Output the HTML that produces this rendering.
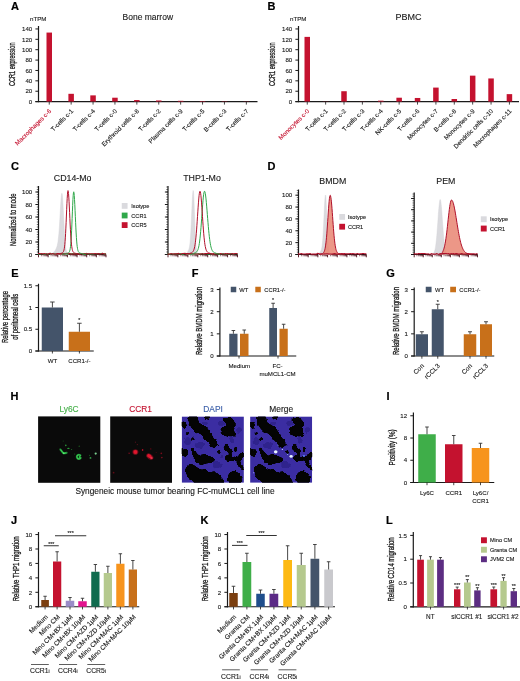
<!DOCTYPE html>
<html><head><meta charset="utf-8"><title>Figure</title>
<style>html,body{margin:0;padding:0;background:#fff}svg{display:block}text{font-family:"Liberation Sans", sans-serif}</style></head>
<body>
<svg width="520" height="681" viewBox="0 0 520 681">
<rect width="520" height="681" fill="#fff"/>
<text transform="translate(11.00,10.30)" font-size="11" text-anchor="start" fill="#000" font-weight="bold" stroke="#000" stroke-width="0.2" >A</text>
<text transform="translate(30.00,21.30)" font-size="6.2" text-anchor="start" fill="#1a1a1a" font-weight="normal" stroke="#1a1a1a" stroke-width="0.12" >nTPM</text>
<text transform="translate(147.80,20.40)" font-size="8.5" text-anchor="middle" fill="#1a1a1a" font-weight="normal" stroke="#1a1a1a" stroke-width="0.12" >Bone marrow</text>
<text transform="translate(15.30,86.00) rotate(-90)" font-size="8.3" textLength="43.5" lengthAdjust="spacingAndGlyphs" fill="#1a1a1a" stroke="#1a1a1a" stroke-width="0.3">CCR1 expression</text>
<line x1="38.50" y1="26.00" x2="38.50" y2="102.20" stroke="#1a1a1a" stroke-width="1.2" stroke-linecap="butt"/>
<line x1="35.40" y1="101.60" x2="38.50" y2="101.60" stroke="#1a1a1a" stroke-width="1.0" stroke-linecap="butt"/>
<text transform="translate(32.20,103.80)" font-size="6.1" text-anchor="end" fill="#1a1a1a" font-weight="normal" stroke="#1a1a1a" stroke-width="0.12" >0</text>
<line x1="35.40" y1="91.22" x2="38.50" y2="91.22" stroke="#1a1a1a" stroke-width="1.0" stroke-linecap="butt"/>
<text transform="translate(32.20,93.42)" font-size="6.1" text-anchor="end" fill="#1a1a1a" font-weight="normal" stroke="#1a1a1a" stroke-width="0.12" >20</text>
<line x1="35.40" y1="80.84" x2="38.50" y2="80.84" stroke="#1a1a1a" stroke-width="1.0" stroke-linecap="butt"/>
<text transform="translate(32.20,83.04)" font-size="6.1" text-anchor="end" fill="#1a1a1a" font-weight="normal" stroke="#1a1a1a" stroke-width="0.12" >40</text>
<line x1="35.40" y1="70.46" x2="38.50" y2="70.46" stroke="#1a1a1a" stroke-width="1.0" stroke-linecap="butt"/>
<text transform="translate(32.20,72.66)" font-size="6.1" text-anchor="end" fill="#1a1a1a" font-weight="normal" stroke="#1a1a1a" stroke-width="0.12" >60</text>
<line x1="35.40" y1="60.08" x2="38.50" y2="60.08" stroke="#1a1a1a" stroke-width="1.0" stroke-linecap="butt"/>
<text transform="translate(32.20,62.28)" font-size="6.1" text-anchor="end" fill="#1a1a1a" font-weight="normal" stroke="#1a1a1a" stroke-width="0.12" >80</text>
<line x1="35.40" y1="49.70" x2="38.50" y2="49.70" stroke="#1a1a1a" stroke-width="1.0" stroke-linecap="butt"/>
<text transform="translate(32.20,51.90)" font-size="6.1" text-anchor="end" fill="#1a1a1a" font-weight="normal" stroke="#1a1a1a" stroke-width="0.12" >100</text>
<line x1="35.40" y1="39.32" x2="38.50" y2="39.32" stroke="#1a1a1a" stroke-width="1.0" stroke-linecap="butt"/>
<text transform="translate(32.20,41.52)" font-size="6.1" text-anchor="end" fill="#1a1a1a" font-weight="normal" stroke="#1a1a1a" stroke-width="0.12" >120</text>
<line x1="35.40" y1="28.94" x2="38.50" y2="28.94" stroke="#1a1a1a" stroke-width="1.0" stroke-linecap="butt"/>
<text transform="translate(32.20,31.14)" font-size="6.1" text-anchor="end" fill="#1a1a1a" font-weight="normal" stroke="#1a1a1a" stroke-width="0.12" >140</text>
<line x1="35.40" y1="101.60" x2="257.50" y2="101.60" stroke="#1a1a1a" stroke-width="1.2" stroke-linecap="butt"/>
<rect x="46.50" y="32.57" width="5.50" height="69.03" fill="#c4122f"/>
<line x1="49.25" y1="101.60" x2="49.25" y2="104.60" stroke="#1a1a1a" stroke-width="0.8" stroke-linecap="butt"/>
<text transform="translate(51.75,111.60) rotate(-45)" font-size="6.25" text-anchor="end" fill="#c4122f" font-weight="normal" stroke="#c4122f" stroke-width="0.12" >Macrophages c-6</text>
<rect x="68.40" y="93.81" width="5.50" height="7.79" fill="#c4122f"/>
<line x1="71.15" y1="101.60" x2="71.15" y2="104.60" stroke="#1a1a1a" stroke-width="0.8" stroke-linecap="butt"/>
<text transform="translate(73.65,111.60) rotate(-45)" font-size="6.25" text-anchor="end" fill="#1a1a1a" font-weight="normal" stroke="#1a1a1a" stroke-width="0.12" >T-cells c-1</text>
<rect x="90.30" y="95.37" width="5.50" height="6.23" fill="#c4122f"/>
<line x1="93.05" y1="101.60" x2="93.05" y2="104.60" stroke="#1a1a1a" stroke-width="0.8" stroke-linecap="butt"/>
<text transform="translate(95.55,111.60) rotate(-45)" font-size="6.25" text-anchor="end" fill="#1a1a1a" font-weight="normal" stroke="#1a1a1a" stroke-width="0.12" >T-cells c-4</text>
<rect x="112.20" y="97.71" width="5.50" height="3.89" fill="#c4122f"/>
<line x1="114.95" y1="101.60" x2="114.95" y2="104.60" stroke="#1a1a1a" stroke-width="0.8" stroke-linecap="butt"/>
<text transform="translate(117.45,111.60) rotate(-45)" font-size="6.25" text-anchor="end" fill="#1a1a1a" font-weight="normal" stroke="#1a1a1a" stroke-width="0.12" >T-cells c-0</text>
<rect x="134.10" y="100.04" width="5.50" height="1.56" fill="#c4122f"/>
<line x1="136.85" y1="101.60" x2="136.85" y2="104.60" stroke="#1a1a1a" stroke-width="0.8" stroke-linecap="butt"/>
<text transform="translate(139.35,111.60) rotate(-45)" font-size="6.25" text-anchor="end" fill="#1a1a1a" font-weight="normal" stroke="#1a1a1a" stroke-width="0.12" >Erythroid cells c-8</text>
<rect x="156.00" y="100.46" width="5.50" height="1.14" fill="#c4122f"/>
<line x1="158.75" y1="101.60" x2="158.75" y2="104.60" stroke="#1a1a1a" stroke-width="0.8" stroke-linecap="butt"/>
<text transform="translate(161.25,111.60) rotate(-45)" font-size="6.25" text-anchor="end" fill="#1a1a1a" font-weight="normal" stroke="#1a1a1a" stroke-width="0.12" >T-cells c-2</text>
<rect x="177.90" y="100.82" width="5.50" height="0.78" fill="#c4122f"/>
<line x1="180.65" y1="101.60" x2="180.65" y2="104.60" stroke="#1a1a1a" stroke-width="0.8" stroke-linecap="butt"/>
<text transform="translate(183.15,111.60) rotate(-45)" font-size="6.25" text-anchor="end" fill="#1a1a1a" font-weight="normal" stroke="#1a1a1a" stroke-width="0.12" >Plasma cells c-9</text>
<rect x="199.80" y="101.08" width="5.50" height="0.52" fill="#c4122f"/>
<line x1="202.55" y1="101.60" x2="202.55" y2="104.60" stroke="#1a1a1a" stroke-width="0.8" stroke-linecap="butt"/>
<text transform="translate(205.05,111.60) rotate(-45)" font-size="6.25" text-anchor="end" fill="#1a1a1a" font-weight="normal" stroke="#1a1a1a" stroke-width="0.12" >T-cells c-5</text>
<rect x="221.70" y="101.29" width="5.50" height="0.31" fill="#c4122f"/>
<line x1="224.45" y1="101.60" x2="224.45" y2="104.60" stroke="#1a1a1a" stroke-width="0.8" stroke-linecap="butt"/>
<text transform="translate(226.95,111.60) rotate(-45)" font-size="6.25" text-anchor="end" fill="#1a1a1a" font-weight="normal" stroke="#1a1a1a" stroke-width="0.12" >B-cells c-3</text>
<rect x="243.60" y="101.39" width="5.50" height="0.21" fill="#c4122f"/>
<line x1="246.35" y1="101.60" x2="246.35" y2="104.60" stroke="#1a1a1a" stroke-width="0.8" stroke-linecap="butt"/>
<text transform="translate(248.85,111.60) rotate(-45)" font-size="6.25" text-anchor="end" fill="#1a1a1a" font-weight="normal" stroke="#1a1a1a" stroke-width="0.12" >T-cells c-7</text>
<text transform="translate(267.50,10.30)" font-size="11" text-anchor="start" fill="#000" font-weight="bold" stroke="#000" stroke-width="0.2" >B</text>
<text transform="translate(290.00,21.30)" font-size="6.2" text-anchor="start" fill="#1a1a1a" font-weight="normal" stroke="#1a1a1a" stroke-width="0.12" >nTPM</text>
<text transform="translate(408.60,20.40)" font-size="9.0" text-anchor="middle" fill="#1a1a1a" font-weight="normal" stroke="#1a1a1a" stroke-width="0.12" >PBMC</text>
<text transform="translate(275.30,86.00) rotate(-90)" font-size="8.3" textLength="43.5" lengthAdjust="spacingAndGlyphs" fill="#1a1a1a" stroke="#1a1a1a" stroke-width="0.3">CCR1 expression</text>
<line x1="298.50" y1="26.00" x2="298.50" y2="102.20" stroke="#1a1a1a" stroke-width="1.2" stroke-linecap="butt"/>
<line x1="295.40" y1="101.60" x2="298.50" y2="101.60" stroke="#1a1a1a" stroke-width="1.0" stroke-linecap="butt"/>
<text transform="translate(292.20,103.80)" font-size="6.1" text-anchor="end" fill="#1a1a1a" font-weight="normal" stroke="#1a1a1a" stroke-width="0.12" >0</text>
<line x1="295.40" y1="91.22" x2="298.50" y2="91.22" stroke="#1a1a1a" stroke-width="1.0" stroke-linecap="butt"/>
<text transform="translate(292.20,93.42)" font-size="6.1" text-anchor="end" fill="#1a1a1a" font-weight="normal" stroke="#1a1a1a" stroke-width="0.12" >20</text>
<line x1="295.40" y1="80.84" x2="298.50" y2="80.84" stroke="#1a1a1a" stroke-width="1.0" stroke-linecap="butt"/>
<text transform="translate(292.20,83.04)" font-size="6.1" text-anchor="end" fill="#1a1a1a" font-weight="normal" stroke="#1a1a1a" stroke-width="0.12" >40</text>
<line x1="295.40" y1="70.46" x2="298.50" y2="70.46" stroke="#1a1a1a" stroke-width="1.0" stroke-linecap="butt"/>
<text transform="translate(292.20,72.66)" font-size="6.1" text-anchor="end" fill="#1a1a1a" font-weight="normal" stroke="#1a1a1a" stroke-width="0.12" >60</text>
<line x1="295.40" y1="60.08" x2="298.50" y2="60.08" stroke="#1a1a1a" stroke-width="1.0" stroke-linecap="butt"/>
<text transform="translate(292.20,62.28)" font-size="6.1" text-anchor="end" fill="#1a1a1a" font-weight="normal" stroke="#1a1a1a" stroke-width="0.12" >80</text>
<line x1="295.40" y1="49.70" x2="298.50" y2="49.70" stroke="#1a1a1a" stroke-width="1.0" stroke-linecap="butt"/>
<text transform="translate(292.20,51.90)" font-size="6.1" text-anchor="end" fill="#1a1a1a" font-weight="normal" stroke="#1a1a1a" stroke-width="0.12" >100</text>
<line x1="295.40" y1="39.32" x2="298.50" y2="39.32" stroke="#1a1a1a" stroke-width="1.0" stroke-linecap="butt"/>
<text transform="translate(292.20,41.52)" font-size="6.1" text-anchor="end" fill="#1a1a1a" font-weight="normal" stroke="#1a1a1a" stroke-width="0.12" >120</text>
<line x1="295.40" y1="28.94" x2="298.50" y2="28.94" stroke="#1a1a1a" stroke-width="1.0" stroke-linecap="butt"/>
<text transform="translate(292.20,31.14)" font-size="6.1" text-anchor="end" fill="#1a1a1a" font-weight="normal" stroke="#1a1a1a" stroke-width="0.12" >140</text>
<line x1="295.40" y1="101.60" x2="519.00" y2="101.60" stroke="#1a1a1a" stroke-width="1.2" stroke-linecap="butt"/>
<rect x="304.50" y="36.88" width="5.50" height="64.72" fill="#c4122f"/>
<line x1="307.25" y1="101.60" x2="307.25" y2="104.60" stroke="#1a1a1a" stroke-width="0.8" stroke-linecap="butt"/>
<text transform="translate(309.75,111.60) rotate(-45)" font-size="6.25" text-anchor="end" fill="#c4122f" font-weight="normal" stroke="#c4122f" stroke-width="0.12" >Monocytes c-0</text>
<rect x="322.88" y="101.44" width="5.50" height="0.16" fill="#c4122f"/>
<line x1="325.63" y1="101.60" x2="325.63" y2="104.60" stroke="#1a1a1a" stroke-width="0.8" stroke-linecap="butt"/>
<text transform="translate(328.13,111.60) rotate(-45)" font-size="6.25" text-anchor="end" fill="#1a1a1a" font-weight="normal" stroke="#1a1a1a" stroke-width="0.12" >T-cells c-1</text>
<rect x="341.26" y="91.22" width="5.50" height="10.38" fill="#c4122f"/>
<line x1="344.01" y1="101.60" x2="344.01" y2="104.60" stroke="#1a1a1a" stroke-width="0.8" stroke-linecap="butt"/>
<text transform="translate(346.51,111.60) rotate(-45)" font-size="6.25" text-anchor="end" fill="#1a1a1a" font-weight="normal" stroke="#1a1a1a" stroke-width="0.12" >T-cells c-2</text>
<rect x="359.64" y="101.44" width="5.50" height="0.16" fill="#c4122f"/>
<line x1="362.39" y1="101.60" x2="362.39" y2="104.60" stroke="#1a1a1a" stroke-width="0.8" stroke-linecap="butt"/>
<text transform="translate(364.89,111.60) rotate(-45)" font-size="6.25" text-anchor="end" fill="#1a1a1a" font-weight="normal" stroke="#1a1a1a" stroke-width="0.12" >T-cells c-3</text>
<rect x="378.02" y="100.67" width="5.50" height="0.93" fill="#c4122f"/>
<line x1="380.77" y1="101.60" x2="380.77" y2="104.60" stroke="#1a1a1a" stroke-width="0.8" stroke-linecap="butt"/>
<text transform="translate(383.27,111.60) rotate(-45)" font-size="6.25" text-anchor="end" fill="#1a1a1a" font-weight="normal" stroke="#1a1a1a" stroke-width="0.12" >T-cells c-4</text>
<rect x="396.40" y="97.71" width="5.50" height="3.89" fill="#c4122f"/>
<line x1="399.15" y1="101.60" x2="399.15" y2="104.60" stroke="#1a1a1a" stroke-width="0.8" stroke-linecap="butt"/>
<text transform="translate(401.65,111.60) rotate(-45)" font-size="6.25" text-anchor="end" fill="#1a1a1a" font-weight="normal" stroke="#1a1a1a" stroke-width="0.12" >NK-cells c-5</text>
<rect x="414.78" y="97.97" width="5.50" height="3.63" fill="#c4122f"/>
<line x1="417.53" y1="101.60" x2="417.53" y2="104.60" stroke="#1a1a1a" stroke-width="0.8" stroke-linecap="butt"/>
<text transform="translate(420.03,111.60) rotate(-45)" font-size="6.25" text-anchor="end" fill="#1a1a1a" font-weight="normal" stroke="#1a1a1a" stroke-width="0.12" >T-cells c-6</text>
<rect x="433.16" y="87.59" width="5.50" height="14.01" fill="#c4122f"/>
<line x1="435.91" y1="101.60" x2="435.91" y2="104.60" stroke="#1a1a1a" stroke-width="0.8" stroke-linecap="butt"/>
<text transform="translate(438.41,111.60) rotate(-45)" font-size="6.25" text-anchor="end" fill="#1a1a1a" font-weight="normal" stroke="#1a1a1a" stroke-width="0.12" >Monocytes c-7</text>
<rect x="451.54" y="99.00" width="5.50" height="2.60" fill="#c4122f"/>
<line x1="454.29" y1="101.60" x2="454.29" y2="104.60" stroke="#1a1a1a" stroke-width="0.8" stroke-linecap="butt"/>
<text transform="translate(456.79,111.60) rotate(-45)" font-size="6.25" text-anchor="end" fill="#1a1a1a" font-weight="normal" stroke="#1a1a1a" stroke-width="0.12" >B-cells c-8</text>
<rect x="469.92" y="75.65" width="5.50" height="25.95" fill="#c4122f"/>
<line x1="472.67" y1="101.60" x2="472.67" y2="104.60" stroke="#1a1a1a" stroke-width="0.8" stroke-linecap="butt"/>
<text transform="translate(475.17,111.60) rotate(-45)" font-size="6.25" text-anchor="end" fill="#1a1a1a" font-weight="normal" stroke="#1a1a1a" stroke-width="0.12" >Monocytes c-9</text>
<rect x="488.30" y="78.45" width="5.50" height="23.15" fill="#c4122f"/>
<line x1="491.05" y1="101.60" x2="491.05" y2="104.60" stroke="#1a1a1a" stroke-width="0.8" stroke-linecap="butt"/>
<text transform="translate(493.55,111.60) rotate(-45)" font-size="6.25" text-anchor="end" fill="#1a1a1a" font-weight="normal" stroke="#1a1a1a" stroke-width="0.12" >Dendritic cells c-10</text>
<rect x="506.68" y="94.13" width="5.50" height="7.47" fill="#c4122f"/>
<line x1="509.43" y1="101.60" x2="509.43" y2="104.60" stroke="#1a1a1a" stroke-width="0.8" stroke-linecap="butt"/>
<text transform="translate(511.93,111.60) rotate(-45)" font-size="6.25" text-anchor="end" fill="#1a1a1a" font-weight="normal" stroke="#1a1a1a" stroke-width="0.12" >Macrophages c-11</text>
<text transform="translate(11.00,170.30)" font-size="11" text-anchor="start" fill="#000" font-weight="bold" stroke="#000" stroke-width="0.2" >C</text>
<text transform="translate(15.60,246.05) rotate(-90)" font-size="8.3" textLength="52.5" lengthAdjust="spacingAndGlyphs" fill="#1a1a1a" stroke="#1a1a1a" stroke-width="0.3">Normalized to mode</text>
<text transform="translate(72.60,180.50)" font-size="8.8" text-anchor="middle" fill="#1a1a1a" font-weight="normal" stroke="#1a1a1a" stroke-width="0.12" >CD14-Mo</text>
<line x1="38.50" y1="186.00" x2="38.50" y2="255.10" stroke="#1a1a1a" stroke-width="1.2" stroke-linecap="butt"/>
<line x1="35.40" y1="254.50" x2="106.00" y2="254.50" stroke="#1a1a1a" stroke-width="1.2" stroke-linecap="butt"/>
<line x1="35.40" y1="254.50" x2="38.50" y2="254.50" stroke="#1a1a1a" stroke-width="1.0" stroke-linecap="butt"/>
<text transform="translate(32.20,256.70)" font-size="6.1" text-anchor="end" fill="#1a1a1a" font-weight="normal" stroke="#1a1a1a" stroke-width="0.12" >0</text>
<line x1="35.40" y1="242.00" x2="38.50" y2="242.00" stroke="#1a1a1a" stroke-width="1.0" stroke-linecap="butt"/>
<text transform="translate(32.20,244.20)" font-size="6.1" text-anchor="end" fill="#1a1a1a" font-weight="normal" stroke="#1a1a1a" stroke-width="0.12" >20</text>
<line x1="35.40" y1="229.50" x2="38.50" y2="229.50" stroke="#1a1a1a" stroke-width="1.0" stroke-linecap="butt"/>
<text transform="translate(32.20,231.70)" font-size="6.1" text-anchor="end" fill="#1a1a1a" font-weight="normal" stroke="#1a1a1a" stroke-width="0.12" >40</text>
<line x1="35.40" y1="217.00" x2="38.50" y2="217.00" stroke="#1a1a1a" stroke-width="1.0" stroke-linecap="butt"/>
<text transform="translate(32.20,219.20)" font-size="6.1" text-anchor="end" fill="#1a1a1a" font-weight="normal" stroke="#1a1a1a" stroke-width="0.12" >60</text>
<line x1="35.40" y1="204.50" x2="38.50" y2="204.50" stroke="#1a1a1a" stroke-width="1.0" stroke-linecap="butt"/>
<text transform="translate(32.20,206.70)" font-size="6.1" text-anchor="end" fill="#1a1a1a" font-weight="normal" stroke="#1a1a1a" stroke-width="0.12" >80</text>
<line x1="35.40" y1="192.00" x2="38.50" y2="192.00" stroke="#1a1a1a" stroke-width="1.0" stroke-linecap="butt"/>
<text transform="translate(32.20,194.20)" font-size="6.1" text-anchor="end" fill="#1a1a1a" font-weight="normal" stroke="#1a1a1a" stroke-width="0.12" >100</text>
<line x1="36.80" y1="254.50" x2="38.50" y2="254.50" stroke="#1a1a1a" stroke-width="0.6" stroke-linecap="butt"/>
<line x1="36.80" y1="252.00" x2="38.50" y2="252.00" stroke="#1a1a1a" stroke-width="0.6" stroke-linecap="butt"/>
<line x1="36.80" y1="249.50" x2="38.50" y2="249.50" stroke="#1a1a1a" stroke-width="0.6" stroke-linecap="butt"/>
<line x1="36.80" y1="247.00" x2="38.50" y2="247.00" stroke="#1a1a1a" stroke-width="0.6" stroke-linecap="butt"/>
<line x1="36.80" y1="244.50" x2="38.50" y2="244.50" stroke="#1a1a1a" stroke-width="0.6" stroke-linecap="butt"/>
<line x1="36.80" y1="242.00" x2="38.50" y2="242.00" stroke="#1a1a1a" stroke-width="0.6" stroke-linecap="butt"/>
<line x1="36.80" y1="239.50" x2="38.50" y2="239.50" stroke="#1a1a1a" stroke-width="0.6" stroke-linecap="butt"/>
<line x1="36.80" y1="237.00" x2="38.50" y2="237.00" stroke="#1a1a1a" stroke-width="0.6" stroke-linecap="butt"/>
<line x1="36.80" y1="234.50" x2="38.50" y2="234.50" stroke="#1a1a1a" stroke-width="0.6" stroke-linecap="butt"/>
<line x1="36.80" y1="232.00" x2="38.50" y2="232.00" stroke="#1a1a1a" stroke-width="0.6" stroke-linecap="butt"/>
<line x1="36.80" y1="229.50" x2="38.50" y2="229.50" stroke="#1a1a1a" stroke-width="0.6" stroke-linecap="butt"/>
<line x1="36.80" y1="227.00" x2="38.50" y2="227.00" stroke="#1a1a1a" stroke-width="0.6" stroke-linecap="butt"/>
<line x1="36.80" y1="224.50" x2="38.50" y2="224.50" stroke="#1a1a1a" stroke-width="0.6" stroke-linecap="butt"/>
<line x1="36.80" y1="222.00" x2="38.50" y2="222.00" stroke="#1a1a1a" stroke-width="0.6" stroke-linecap="butt"/>
<line x1="36.80" y1="219.50" x2="38.50" y2="219.50" stroke="#1a1a1a" stroke-width="0.6" stroke-linecap="butt"/>
<line x1="36.80" y1="217.00" x2="38.50" y2="217.00" stroke="#1a1a1a" stroke-width="0.6" stroke-linecap="butt"/>
<line x1="36.80" y1="214.50" x2="38.50" y2="214.50" stroke="#1a1a1a" stroke-width="0.6" stroke-linecap="butt"/>
<line x1="36.80" y1="212.00" x2="38.50" y2="212.00" stroke="#1a1a1a" stroke-width="0.6" stroke-linecap="butt"/>
<line x1="36.80" y1="209.50" x2="38.50" y2="209.50" stroke="#1a1a1a" stroke-width="0.6" stroke-linecap="butt"/>
<line x1="36.80" y1="207.00" x2="38.50" y2="207.00" stroke="#1a1a1a" stroke-width="0.6" stroke-linecap="butt"/>
<line x1="36.80" y1="204.50" x2="38.50" y2="204.50" stroke="#1a1a1a" stroke-width="0.6" stroke-linecap="butt"/>
<line x1="36.80" y1="202.00" x2="38.50" y2="202.00" stroke="#1a1a1a" stroke-width="0.6" stroke-linecap="butt"/>
<line x1="36.80" y1="199.50" x2="38.50" y2="199.50" stroke="#1a1a1a" stroke-width="0.6" stroke-linecap="butt"/>
<line x1="36.80" y1="197.00" x2="38.50" y2="197.00" stroke="#1a1a1a" stroke-width="0.6" stroke-linecap="butt"/>
<line x1="36.80" y1="194.50" x2="38.50" y2="194.50" stroke="#1a1a1a" stroke-width="0.6" stroke-linecap="butt"/>
<line x1="36.80" y1="192.00" x2="38.50" y2="192.00" stroke="#1a1a1a" stroke-width="0.6" stroke-linecap="butt"/>
<line x1="36.80" y1="189.50" x2="38.50" y2="189.50" stroke="#1a1a1a" stroke-width="0.6" stroke-linecap="butt"/>
<line x1="36.80" y1="187.00" x2="38.50" y2="187.00" stroke="#1a1a1a" stroke-width="0.6" stroke-linecap="butt"/>
<line x1="38.50" y1="254.50" x2="38.50" y2="257.30" stroke="#4a0c18" stroke-width="0.9" stroke-linecap="butt"/>
<line x1="41.40" y1="254.50" x2="41.40" y2="256.30" stroke="#4a0c18" stroke-width="0.55" stroke-linecap="butt"/>
<line x1="43.10" y1="254.50" x2="43.10" y2="256.30" stroke="#4a0c18" stroke-width="0.55" stroke-linecap="butt"/>
<line x1="44.31" y1="254.50" x2="44.31" y2="256.30" stroke="#4a0c18" stroke-width="0.55" stroke-linecap="butt"/>
<line x1="45.24" y1="254.50" x2="45.24" y2="256.30" stroke="#4a0c18" stroke-width="0.55" stroke-linecap="butt"/>
<line x1="46.00" y1="254.50" x2="46.00" y2="256.30" stroke="#4a0c18" stroke-width="0.55" stroke-linecap="butt"/>
<line x1="46.65" y1="254.50" x2="46.65" y2="256.30" stroke="#4a0c18" stroke-width="0.55" stroke-linecap="butt"/>
<line x1="47.21" y1="254.50" x2="47.21" y2="256.30" stroke="#4a0c18" stroke-width="0.55" stroke-linecap="butt"/>
<line x1="47.70" y1="254.50" x2="47.70" y2="256.30" stroke="#4a0c18" stroke-width="0.55" stroke-linecap="butt"/>
<line x1="48.14" y1="254.50" x2="48.14" y2="257.30" stroke="#4a0c18" stroke-width="0.9" stroke-linecap="butt"/>
<line x1="51.05" y1="254.50" x2="51.05" y2="256.30" stroke="#4a0c18" stroke-width="0.55" stroke-linecap="butt"/>
<line x1="52.74" y1="254.50" x2="52.74" y2="256.30" stroke="#4a0c18" stroke-width="0.55" stroke-linecap="butt"/>
<line x1="53.95" y1="254.50" x2="53.95" y2="256.30" stroke="#4a0c18" stroke-width="0.55" stroke-linecap="butt"/>
<line x1="54.88" y1="254.50" x2="54.88" y2="256.30" stroke="#4a0c18" stroke-width="0.55" stroke-linecap="butt"/>
<line x1="55.65" y1="254.50" x2="55.65" y2="256.30" stroke="#4a0c18" stroke-width="0.55" stroke-linecap="butt"/>
<line x1="56.29" y1="254.50" x2="56.29" y2="256.30" stroke="#4a0c18" stroke-width="0.55" stroke-linecap="butt"/>
<line x1="56.85" y1="254.50" x2="56.85" y2="256.30" stroke="#4a0c18" stroke-width="0.55" stroke-linecap="butt"/>
<line x1="57.34" y1="254.50" x2="57.34" y2="256.30" stroke="#4a0c18" stroke-width="0.55" stroke-linecap="butt"/>
<line x1="57.79" y1="254.50" x2="57.79" y2="257.30" stroke="#4a0c18" stroke-width="0.9" stroke-linecap="butt"/>
<line x1="60.69" y1="254.50" x2="60.69" y2="256.30" stroke="#4a0c18" stroke-width="0.55" stroke-linecap="butt"/>
<line x1="62.39" y1="254.50" x2="62.39" y2="256.30" stroke="#4a0c18" stroke-width="0.55" stroke-linecap="butt"/>
<line x1="63.59" y1="254.50" x2="63.59" y2="256.30" stroke="#4a0c18" stroke-width="0.55" stroke-linecap="butt"/>
<line x1="64.53" y1="254.50" x2="64.53" y2="256.30" stroke="#4a0c18" stroke-width="0.55" stroke-linecap="butt"/>
<line x1="65.29" y1="254.50" x2="65.29" y2="256.30" stroke="#4a0c18" stroke-width="0.55" stroke-linecap="butt"/>
<line x1="65.93" y1="254.50" x2="65.93" y2="256.30" stroke="#4a0c18" stroke-width="0.55" stroke-linecap="butt"/>
<line x1="66.49" y1="254.50" x2="66.49" y2="256.30" stroke="#4a0c18" stroke-width="0.55" stroke-linecap="butt"/>
<line x1="66.99" y1="254.50" x2="66.99" y2="256.30" stroke="#4a0c18" stroke-width="0.55" stroke-linecap="butt"/>
<line x1="67.43" y1="254.50" x2="67.43" y2="257.30" stroke="#4a0c18" stroke-width="0.9" stroke-linecap="butt"/>
<line x1="70.33" y1="254.50" x2="70.33" y2="256.30" stroke="#4a0c18" stroke-width="0.55" stroke-linecap="butt"/>
<line x1="72.03" y1="254.50" x2="72.03" y2="256.30" stroke="#4a0c18" stroke-width="0.55" stroke-linecap="butt"/>
<line x1="73.23" y1="254.50" x2="73.23" y2="256.30" stroke="#4a0c18" stroke-width="0.55" stroke-linecap="butt"/>
<line x1="74.17" y1="254.50" x2="74.17" y2="256.30" stroke="#4a0c18" stroke-width="0.55" stroke-linecap="butt"/>
<line x1="74.93" y1="254.50" x2="74.93" y2="256.30" stroke="#4a0c18" stroke-width="0.55" stroke-linecap="butt"/>
<line x1="75.58" y1="254.50" x2="75.58" y2="256.30" stroke="#4a0c18" stroke-width="0.55" stroke-linecap="butt"/>
<line x1="76.14" y1="254.50" x2="76.14" y2="256.30" stroke="#4a0c18" stroke-width="0.55" stroke-linecap="butt"/>
<line x1="76.63" y1="254.50" x2="76.63" y2="256.30" stroke="#4a0c18" stroke-width="0.55" stroke-linecap="butt"/>
<line x1="77.07" y1="254.50" x2="77.07" y2="257.30" stroke="#4a0c18" stroke-width="0.9" stroke-linecap="butt"/>
<line x1="79.97" y1="254.50" x2="79.97" y2="256.30" stroke="#4a0c18" stroke-width="0.55" stroke-linecap="butt"/>
<line x1="81.67" y1="254.50" x2="81.67" y2="256.30" stroke="#4a0c18" stroke-width="0.55" stroke-linecap="butt"/>
<line x1="82.88" y1="254.50" x2="82.88" y2="256.30" stroke="#4a0c18" stroke-width="0.55" stroke-linecap="butt"/>
<line x1="83.81" y1="254.50" x2="83.81" y2="256.30" stroke="#4a0c18" stroke-width="0.55" stroke-linecap="butt"/>
<line x1="84.58" y1="254.50" x2="84.58" y2="256.30" stroke="#4a0c18" stroke-width="0.55" stroke-linecap="butt"/>
<line x1="85.22" y1="254.50" x2="85.22" y2="256.30" stroke="#4a0c18" stroke-width="0.55" stroke-linecap="butt"/>
<line x1="85.78" y1="254.50" x2="85.78" y2="256.30" stroke="#4a0c18" stroke-width="0.55" stroke-linecap="butt"/>
<line x1="86.27" y1="254.50" x2="86.27" y2="256.30" stroke="#4a0c18" stroke-width="0.55" stroke-linecap="butt"/>
<line x1="86.71" y1="254.50" x2="86.71" y2="257.30" stroke="#4a0c18" stroke-width="0.9" stroke-linecap="butt"/>
<line x1="89.62" y1="254.50" x2="89.62" y2="256.30" stroke="#4a0c18" stroke-width="0.55" stroke-linecap="butt"/>
<line x1="91.32" y1="254.50" x2="91.32" y2="256.30" stroke="#4a0c18" stroke-width="0.55" stroke-linecap="butt"/>
<line x1="92.52" y1="254.50" x2="92.52" y2="256.30" stroke="#4a0c18" stroke-width="0.55" stroke-linecap="butt"/>
<line x1="93.45" y1="254.50" x2="93.45" y2="256.30" stroke="#4a0c18" stroke-width="0.55" stroke-linecap="butt"/>
<line x1="94.22" y1="254.50" x2="94.22" y2="256.30" stroke="#4a0c18" stroke-width="0.55" stroke-linecap="butt"/>
<line x1="94.86" y1="254.50" x2="94.86" y2="256.30" stroke="#4a0c18" stroke-width="0.55" stroke-linecap="butt"/>
<line x1="95.42" y1="254.50" x2="95.42" y2="256.30" stroke="#4a0c18" stroke-width="0.55" stroke-linecap="butt"/>
<line x1="95.92" y1="254.50" x2="95.92" y2="256.30" stroke="#4a0c18" stroke-width="0.55" stroke-linecap="butt"/>
<line x1="96.36" y1="254.50" x2="96.36" y2="257.30" stroke="#4a0c18" stroke-width="0.9" stroke-linecap="butt"/>
<line x1="99.26" y1="254.50" x2="99.26" y2="256.30" stroke="#4a0c18" stroke-width="0.55" stroke-linecap="butt"/>
<line x1="100.96" y1="254.50" x2="100.96" y2="256.30" stroke="#4a0c18" stroke-width="0.55" stroke-linecap="butt"/>
<line x1="102.16" y1="254.50" x2="102.16" y2="256.30" stroke="#4a0c18" stroke-width="0.55" stroke-linecap="butt"/>
<line x1="103.10" y1="254.50" x2="103.10" y2="256.30" stroke="#4a0c18" stroke-width="0.55" stroke-linecap="butt"/>
<line x1="103.86" y1="254.50" x2="103.86" y2="256.30" stroke="#4a0c18" stroke-width="0.55" stroke-linecap="butt"/>
<line x1="104.51" y1="254.50" x2="104.51" y2="256.30" stroke="#4a0c18" stroke-width="0.55" stroke-linecap="butt"/>
<line x1="105.07" y1="254.50" x2="105.07" y2="256.30" stroke="#4a0c18" stroke-width="0.55" stroke-linecap="butt"/>
<line x1="105.56" y1="254.50" x2="105.56" y2="256.30" stroke="#4a0c18" stroke-width="0.55" stroke-linecap="butt"/>
<line x1="106.00" y1="254.50" x2="106.00" y2="257.30" stroke="#4a0c18" stroke-width="0.9" stroke-linecap="butt"/>
<path d="M50.00,254.50 L50.21,254.46 L50.42,254.41 L50.63,254.36 L50.84,254.30 L51.06,254.22 L51.27,254.14 L51.48,254.04 L51.69,253.93 L51.90,253.80 L52.11,253.64 L52.32,253.47 L52.53,253.27 L52.74,253.04 L52.96,252.84 L53.17,252.68 L53.38,252.51 L53.59,252.33 L53.80,252.13 L54.01,251.92 L54.22,251.69 L54.43,251.44 L54.64,251.17 L54.86,250.88 L55.07,250.58 L55.28,250.25 L55.49,249.90 L55.70,249.53 L55.91,249.12 L56.12,248.68 L56.33,248.21 L56.54,247.68 L56.76,247.10 L56.97,246.44 L57.18,245.70 L57.39,244.85 L57.60,243.87 L57.81,242.73 L58.02,241.41 L58.23,239.87 L58.44,238.09 L58.66,236.04 L58.87,233.70 L59.08,231.07 L59.29,228.15 L59.50,224.95 L59.71,221.51 L59.92,217.88 L60.13,214.14 L60.34,210.38 L60.56,206.72 L60.77,203.27 L60.98,200.15 L61.19,197.50 L61.40,195.43 L61.61,194.02 L61.82,193.35 L62.03,193.48 L62.24,194.52 L62.46,196.42 L62.67,199.09 L62.88,202.41 L63.09,206.22 L63.30,210.39 L63.51,214.74 L63.72,219.14 L63.93,223.45 L64.14,227.57 L64.36,231.41 L64.57,234.91 L64.78,238.05 L64.99,240.80 L65.20,243.16 L65.41,245.17 L65.62,246.83 L65.83,248.20 L66.04,249.31 L66.26,250.36 L66.47,251.31 L66.68,252.02 L66.89,252.57 L67.10,252.99 L67.31,253.32 L67.52,253.57 L67.73,253.78 L67.94,253.95 L68.16,254.09 L68.37,254.22 L68.58,254.32 L68.79,254.42 L69.00,254.50 L69.00,254.50 L50.00,254.50 Z" fill="#dadade" stroke="#cfcfd4" stroke-width="0.4"/>
<path d="M38.00,254.01 L39.21,253.76 L40.43,253.90 L41.64,253.72 L42.86,253.70 L44.07,254.15 L45.29,254.19 L46.50,253.53 L47.71,253.99 L48.93,254.01 L50.14,253.40 L51.36,253.82 L52.57,253.53 L53.79,253.82 L55.00,253.69 L56.21,254.08 L57.43,253.69 L58.64,253.51 L59.86,253.78 L61.07,253.61 L62.29,253.66 L63.50,254.15 L64.71,253.59 L65.93,253.73 L67.14,253.96 L68.36,254.18 L69.57,253.51 L70.79,253.82 L72.00,253.62 L73.21,253.50 L74.43,253.63 L75.64,253.46 L76.86,253.88 L78.07,253.56 L79.29,253.84 L80.50,253.45 L81.71,253.50 L82.93,254.12 L84.14,254.09 L85.36,254.03 L86.57,253.43 L87.79,253.85 L89.00,253.70 L90.21,253.96 L91.43,253.79 L92.64,253.89 L93.86,253.92 L95.07,253.73 L96.29,253.73 L97.50,253.48 L98.71,253.65 L99.93,253.46 L101.14,253.51 L102.36,253.41 L103.57,253.66 L104.79,254.07 L106.00,253.51" fill="none" stroke="#2fa84a" stroke-width="1.1"/>
<path d="M38.00,253.43 L39.21,253.48 L40.43,253.74 L41.64,253.63 L42.86,254.03 L44.07,253.53 L45.29,253.74 L46.50,253.97 L47.71,254.15 L48.93,253.52 L50.14,253.41 L51.36,254.13 L52.57,253.56 L53.79,253.87 L55.00,254.08 L56.21,253.96 L57.43,253.58 L58.64,253.50 L59.86,254.16 L61.07,253.71 L62.29,254.16 L63.50,253.63 L64.71,253.94 L65.93,253.50 L67.14,253.42 L68.36,253.80 L69.57,253.40 L70.79,253.95 L72.00,254.14 L73.21,253.72 L74.43,254.17 L75.64,254.04 L76.86,253.87 L78.07,253.71 L79.29,254.08 L80.50,254.17 L81.71,253.51 L82.93,253.95 L84.14,253.43 L85.36,253.48 L86.57,253.90 L87.79,253.83 L89.00,253.78 L90.21,253.68 L91.43,253.72 L92.64,253.75 L93.86,253.70 L95.07,253.45 L96.29,253.79 L97.50,253.86 L98.71,253.62 L99.93,254.01 L101.14,253.96 L102.36,253.42 L103.57,253.78 L104.79,253.76 L106.00,254.19" fill="none" stroke="#b0102a" stroke-width="1.1"/>
<path d="M62.00,254.30 L62.27,254.28 L62.53,254.25 L62.80,254.22 L63.07,254.19 L63.33,254.15 L63.60,254.12 L63.87,254.07 L64.13,254.03 L64.40,253.98 L64.67,253.92 L64.93,253.86 L65.20,253.79 L65.47,253.71 L65.73,253.65 L66.00,253.61 L66.27,253.56 L66.53,253.51 L66.80,253.45 L67.07,253.39 L67.33,253.32 L67.60,253.23 L67.87,253.14 L68.13,253.02 L68.40,252.88 L68.67,252.70 L68.93,252.45 L69.20,252.09 L69.47,251.59 L69.73,250.87 L70.00,249.84 L70.27,248.40 L70.53,246.40 L70.80,243.74 L71.07,240.29 L71.33,235.99 L71.60,230.83 L71.87,224.93 L72.13,218.49 L72.40,211.85 L72.67,205.44 L72.93,199.77 L73.20,195.34 L73.47,192.59 L73.73,191.81 L74.00,192.87 L74.27,195.52 L74.53,199.55 L74.80,204.61 L75.07,210.33 L75.33,216.34 L75.60,222.29 L75.87,227.90 L76.13,232.96 L76.40,237.37 L76.67,241.07 L76.93,244.07 L77.20,246.45 L77.47,248.27 L77.73,249.63 L78.00,250.64 L78.27,251.37 L78.53,251.89 L78.80,252.27 L79.07,252.55 L79.33,252.75 L79.60,252.91 L79.87,253.04 L80.13,253.14 L80.40,253.23 L80.67,253.30 L80.93,253.37 L81.20,253.43 L81.47,253.48 L81.73,253.53 L82.00,253.58 L82.27,253.62 L82.53,253.68 L82.80,253.76 L83.07,253.83 L83.33,253.89 L83.60,253.95 L83.87,254.01 L84.13,254.06 L84.40,254.10 L84.67,254.14 L84.93,254.18 L85.20,254.21 L85.47,254.24 L85.73,254.27 L86.00,254.30" fill="none" stroke="#2fa84a" stroke-width="1.0"/>
<path d="M56.00,254.30 L56.27,254.27 L56.53,254.24 L56.80,254.21 L57.07,254.18 L57.33,254.14 L57.60,254.10 L57.87,254.05 L58.13,254.00 L58.40,253.95 L58.67,253.89 L58.93,253.82 L59.20,253.75 L59.47,253.66 L59.73,253.60 L60.00,253.56 L60.27,253.51 L60.53,253.45 L60.80,253.40 L61.07,253.33 L61.33,253.26 L61.60,253.18 L61.87,253.08 L62.13,252.96 L62.40,252.82 L62.67,252.63 L62.93,252.38 L63.20,252.04 L63.47,251.56 L63.73,250.89 L64.00,249.95 L64.27,248.65 L64.53,246.90 L64.80,244.57 L65.07,241.58 L65.33,237.85 L65.60,233.35 L65.87,228.11 L66.13,222.27 L66.40,216.03 L66.67,209.71 L66.93,203.68 L67.20,198.36 L67.47,194.19 L67.73,191.52 L68.00,190.60 L68.27,191.37 L68.53,193.60 L68.80,197.13 L69.07,201.70 L69.33,206.99 L69.60,212.67 L69.87,218.45 L70.13,224.04 L70.40,229.25 L70.67,233.91 L70.93,237.97 L71.20,241.38 L71.47,244.18 L71.73,246.40 L72.00,248.14 L72.27,249.46 L72.53,250.46 L72.80,251.19 L73.07,251.73 L73.33,252.13 L73.60,252.42 L73.87,252.64 L74.13,252.81 L74.40,252.95 L74.67,253.06 L74.93,253.15 L75.20,253.23 L75.47,253.30 L75.73,253.36 L76.00,253.42 L76.27,253.47 L76.53,253.55 L76.80,253.64 L77.07,253.73 L77.33,253.81 L77.60,253.88 L77.87,253.95 L78.13,254.00 L78.40,254.06 L78.67,254.11 L78.93,254.15 L79.20,254.20 L79.47,254.23 L79.73,254.27 L80.00,254.30" fill="none" stroke="#b0102a" stroke-width="1.0"/>
<rect x="121.75" y="203.00" width="5.80" height="5.80" fill="#dadade"/>
<text transform="translate(131.30,207.90)" font-size="5.6" text-anchor="start" fill="#1a1a1a" font-weight="normal" stroke="#1a1a1a" stroke-width="0.12" >Isotype</text>
<rect x="121.75" y="212.60" width="5.80" height="5.80" fill="#2fa84a"/>
<text transform="translate(131.30,217.50)" font-size="5.6" text-anchor="start" fill="#1a1a1a" font-weight="normal" stroke="#1a1a1a" stroke-width="0.12" >CCR1</text>
<rect x="121.75" y="222.20" width="5.80" height="5.80" fill="#c4122f"/>
<text transform="translate(131.30,227.10)" font-size="5.6" text-anchor="start" fill="#1a1a1a" font-weight="normal" stroke="#1a1a1a" stroke-width="0.12" >CCR5</text>
<text transform="translate(202.00,180.50)" font-size="8.8" text-anchor="middle" fill="#1a1a1a" font-weight="normal" stroke="#1a1a1a" stroke-width="0.12" >THP1-Mo</text>
<line x1="168.00" y1="186.00" x2="168.00" y2="255.10" stroke="#1a1a1a" stroke-width="1.2" stroke-linecap="butt"/>
<line x1="164.90" y1="254.50" x2="237.50" y2="254.50" stroke="#1a1a1a" stroke-width="1.2" stroke-linecap="butt"/>
<line x1="164.90" y1="254.50" x2="168.00" y2="254.50" stroke="#1a1a1a" stroke-width="1.0" stroke-linecap="butt"/>
<line x1="164.90" y1="242.00" x2="168.00" y2="242.00" stroke="#1a1a1a" stroke-width="1.0" stroke-linecap="butt"/>
<line x1="164.90" y1="229.50" x2="168.00" y2="229.50" stroke="#1a1a1a" stroke-width="1.0" stroke-linecap="butt"/>
<line x1="164.90" y1="217.00" x2="168.00" y2="217.00" stroke="#1a1a1a" stroke-width="1.0" stroke-linecap="butt"/>
<line x1="164.90" y1="204.50" x2="168.00" y2="204.50" stroke="#1a1a1a" stroke-width="1.0" stroke-linecap="butt"/>
<line x1="164.90" y1="192.00" x2="168.00" y2="192.00" stroke="#1a1a1a" stroke-width="1.0" stroke-linecap="butt"/>
<line x1="166.30" y1="254.50" x2="168.00" y2="254.50" stroke="#1a1a1a" stroke-width="0.6" stroke-linecap="butt"/>
<line x1="166.30" y1="252.00" x2="168.00" y2="252.00" stroke="#1a1a1a" stroke-width="0.6" stroke-linecap="butt"/>
<line x1="166.30" y1="249.50" x2="168.00" y2="249.50" stroke="#1a1a1a" stroke-width="0.6" stroke-linecap="butt"/>
<line x1="166.30" y1="247.00" x2="168.00" y2="247.00" stroke="#1a1a1a" stroke-width="0.6" stroke-linecap="butt"/>
<line x1="166.30" y1="244.50" x2="168.00" y2="244.50" stroke="#1a1a1a" stroke-width="0.6" stroke-linecap="butt"/>
<line x1="166.30" y1="242.00" x2="168.00" y2="242.00" stroke="#1a1a1a" stroke-width="0.6" stroke-linecap="butt"/>
<line x1="166.30" y1="239.50" x2="168.00" y2="239.50" stroke="#1a1a1a" stroke-width="0.6" stroke-linecap="butt"/>
<line x1="166.30" y1="237.00" x2="168.00" y2="237.00" stroke="#1a1a1a" stroke-width="0.6" stroke-linecap="butt"/>
<line x1="166.30" y1="234.50" x2="168.00" y2="234.50" stroke="#1a1a1a" stroke-width="0.6" stroke-linecap="butt"/>
<line x1="166.30" y1="232.00" x2="168.00" y2="232.00" stroke="#1a1a1a" stroke-width="0.6" stroke-linecap="butt"/>
<line x1="166.30" y1="229.50" x2="168.00" y2="229.50" stroke="#1a1a1a" stroke-width="0.6" stroke-linecap="butt"/>
<line x1="166.30" y1="227.00" x2="168.00" y2="227.00" stroke="#1a1a1a" stroke-width="0.6" stroke-linecap="butt"/>
<line x1="166.30" y1="224.50" x2="168.00" y2="224.50" stroke="#1a1a1a" stroke-width="0.6" stroke-linecap="butt"/>
<line x1="166.30" y1="222.00" x2="168.00" y2="222.00" stroke="#1a1a1a" stroke-width="0.6" stroke-linecap="butt"/>
<line x1="166.30" y1="219.50" x2="168.00" y2="219.50" stroke="#1a1a1a" stroke-width="0.6" stroke-linecap="butt"/>
<line x1="166.30" y1="217.00" x2="168.00" y2="217.00" stroke="#1a1a1a" stroke-width="0.6" stroke-linecap="butt"/>
<line x1="166.30" y1="214.50" x2="168.00" y2="214.50" stroke="#1a1a1a" stroke-width="0.6" stroke-linecap="butt"/>
<line x1="166.30" y1="212.00" x2="168.00" y2="212.00" stroke="#1a1a1a" stroke-width="0.6" stroke-linecap="butt"/>
<line x1="166.30" y1="209.50" x2="168.00" y2="209.50" stroke="#1a1a1a" stroke-width="0.6" stroke-linecap="butt"/>
<line x1="166.30" y1="207.00" x2="168.00" y2="207.00" stroke="#1a1a1a" stroke-width="0.6" stroke-linecap="butt"/>
<line x1="166.30" y1="204.50" x2="168.00" y2="204.50" stroke="#1a1a1a" stroke-width="0.6" stroke-linecap="butt"/>
<line x1="166.30" y1="202.00" x2="168.00" y2="202.00" stroke="#1a1a1a" stroke-width="0.6" stroke-linecap="butt"/>
<line x1="166.30" y1="199.50" x2="168.00" y2="199.50" stroke="#1a1a1a" stroke-width="0.6" stroke-linecap="butt"/>
<line x1="166.30" y1="197.00" x2="168.00" y2="197.00" stroke="#1a1a1a" stroke-width="0.6" stroke-linecap="butt"/>
<line x1="166.30" y1="194.50" x2="168.00" y2="194.50" stroke="#1a1a1a" stroke-width="0.6" stroke-linecap="butt"/>
<line x1="166.30" y1="192.00" x2="168.00" y2="192.00" stroke="#1a1a1a" stroke-width="0.6" stroke-linecap="butt"/>
<line x1="166.30" y1="189.50" x2="168.00" y2="189.50" stroke="#1a1a1a" stroke-width="0.6" stroke-linecap="butt"/>
<line x1="166.30" y1="187.00" x2="168.00" y2="187.00" stroke="#1a1a1a" stroke-width="0.6" stroke-linecap="butt"/>
<line x1="168.00" y1="254.50" x2="168.00" y2="257.30" stroke="#4a0c18" stroke-width="0.9" stroke-linecap="butt"/>
<line x1="170.99" y1="254.50" x2="170.99" y2="256.30" stroke="#4a0c18" stroke-width="0.55" stroke-linecap="butt"/>
<line x1="172.74" y1="254.50" x2="172.74" y2="256.30" stroke="#4a0c18" stroke-width="0.55" stroke-linecap="butt"/>
<line x1="173.98" y1="254.50" x2="173.98" y2="256.30" stroke="#4a0c18" stroke-width="0.55" stroke-linecap="butt"/>
<line x1="174.94" y1="254.50" x2="174.94" y2="256.30" stroke="#4a0c18" stroke-width="0.55" stroke-linecap="butt"/>
<line x1="175.73" y1="254.50" x2="175.73" y2="256.30" stroke="#4a0c18" stroke-width="0.55" stroke-linecap="butt"/>
<line x1="176.39" y1="254.50" x2="176.39" y2="256.30" stroke="#4a0c18" stroke-width="0.55" stroke-linecap="butt"/>
<line x1="176.97" y1="254.50" x2="176.97" y2="256.30" stroke="#4a0c18" stroke-width="0.55" stroke-linecap="butt"/>
<line x1="177.47" y1="254.50" x2="177.47" y2="256.30" stroke="#4a0c18" stroke-width="0.55" stroke-linecap="butt"/>
<line x1="177.93" y1="254.50" x2="177.93" y2="257.30" stroke="#4a0c18" stroke-width="0.9" stroke-linecap="butt"/>
<line x1="180.92" y1="254.50" x2="180.92" y2="256.30" stroke="#4a0c18" stroke-width="0.55" stroke-linecap="butt"/>
<line x1="182.67" y1="254.50" x2="182.67" y2="256.30" stroke="#4a0c18" stroke-width="0.55" stroke-linecap="butt"/>
<line x1="183.91" y1="254.50" x2="183.91" y2="256.30" stroke="#4a0c18" stroke-width="0.55" stroke-linecap="butt"/>
<line x1="184.87" y1="254.50" x2="184.87" y2="256.30" stroke="#4a0c18" stroke-width="0.55" stroke-linecap="butt"/>
<line x1="185.65" y1="254.50" x2="185.65" y2="256.30" stroke="#4a0c18" stroke-width="0.55" stroke-linecap="butt"/>
<line x1="186.32" y1="254.50" x2="186.32" y2="256.30" stroke="#4a0c18" stroke-width="0.55" stroke-linecap="butt"/>
<line x1="186.89" y1="254.50" x2="186.89" y2="256.30" stroke="#4a0c18" stroke-width="0.55" stroke-linecap="butt"/>
<line x1="187.40" y1="254.50" x2="187.40" y2="256.30" stroke="#4a0c18" stroke-width="0.55" stroke-linecap="butt"/>
<line x1="187.86" y1="254.50" x2="187.86" y2="257.30" stroke="#4a0c18" stroke-width="0.9" stroke-linecap="butt"/>
<line x1="190.85" y1="254.50" x2="190.85" y2="256.30" stroke="#4a0c18" stroke-width="0.55" stroke-linecap="butt"/>
<line x1="192.59" y1="254.50" x2="192.59" y2="256.30" stroke="#4a0c18" stroke-width="0.55" stroke-linecap="butt"/>
<line x1="193.83" y1="254.50" x2="193.83" y2="256.30" stroke="#4a0c18" stroke-width="0.55" stroke-linecap="butt"/>
<line x1="194.80" y1="254.50" x2="194.80" y2="256.30" stroke="#4a0c18" stroke-width="0.55" stroke-linecap="butt"/>
<line x1="195.58" y1="254.50" x2="195.58" y2="256.30" stroke="#4a0c18" stroke-width="0.55" stroke-linecap="butt"/>
<line x1="196.25" y1="254.50" x2="196.25" y2="256.30" stroke="#4a0c18" stroke-width="0.55" stroke-linecap="butt"/>
<line x1="196.82" y1="254.50" x2="196.82" y2="256.30" stroke="#4a0c18" stroke-width="0.55" stroke-linecap="butt"/>
<line x1="197.33" y1="254.50" x2="197.33" y2="256.30" stroke="#4a0c18" stroke-width="0.55" stroke-linecap="butt"/>
<line x1="197.79" y1="254.50" x2="197.79" y2="257.30" stroke="#4a0c18" stroke-width="0.9" stroke-linecap="butt"/>
<line x1="200.77" y1="254.50" x2="200.77" y2="256.30" stroke="#4a0c18" stroke-width="0.55" stroke-linecap="butt"/>
<line x1="202.52" y1="254.50" x2="202.52" y2="256.30" stroke="#4a0c18" stroke-width="0.55" stroke-linecap="butt"/>
<line x1="203.76" y1="254.50" x2="203.76" y2="256.30" stroke="#4a0c18" stroke-width="0.55" stroke-linecap="butt"/>
<line x1="204.73" y1="254.50" x2="204.73" y2="256.30" stroke="#4a0c18" stroke-width="0.55" stroke-linecap="butt"/>
<line x1="205.51" y1="254.50" x2="205.51" y2="256.30" stroke="#4a0c18" stroke-width="0.55" stroke-linecap="butt"/>
<line x1="206.18" y1="254.50" x2="206.18" y2="256.30" stroke="#4a0c18" stroke-width="0.55" stroke-linecap="butt"/>
<line x1="206.75" y1="254.50" x2="206.75" y2="256.30" stroke="#4a0c18" stroke-width="0.55" stroke-linecap="butt"/>
<line x1="207.26" y1="254.50" x2="207.26" y2="256.30" stroke="#4a0c18" stroke-width="0.55" stroke-linecap="butt"/>
<line x1="207.71" y1="254.50" x2="207.71" y2="257.30" stroke="#4a0c18" stroke-width="0.9" stroke-linecap="butt"/>
<line x1="210.70" y1="254.50" x2="210.70" y2="256.30" stroke="#4a0c18" stroke-width="0.55" stroke-linecap="butt"/>
<line x1="212.45" y1="254.50" x2="212.45" y2="256.30" stroke="#4a0c18" stroke-width="0.55" stroke-linecap="butt"/>
<line x1="213.69" y1="254.50" x2="213.69" y2="256.30" stroke="#4a0c18" stroke-width="0.55" stroke-linecap="butt"/>
<line x1="214.65" y1="254.50" x2="214.65" y2="256.30" stroke="#4a0c18" stroke-width="0.55" stroke-linecap="butt"/>
<line x1="215.44" y1="254.50" x2="215.44" y2="256.30" stroke="#4a0c18" stroke-width="0.55" stroke-linecap="butt"/>
<line x1="216.10" y1="254.50" x2="216.10" y2="256.30" stroke="#4a0c18" stroke-width="0.55" stroke-linecap="butt"/>
<line x1="216.68" y1="254.50" x2="216.68" y2="256.30" stroke="#4a0c18" stroke-width="0.55" stroke-linecap="butt"/>
<line x1="217.19" y1="254.50" x2="217.19" y2="256.30" stroke="#4a0c18" stroke-width="0.55" stroke-linecap="butt"/>
<line x1="217.64" y1="254.50" x2="217.64" y2="257.30" stroke="#4a0c18" stroke-width="0.9" stroke-linecap="butt"/>
<line x1="220.63" y1="254.50" x2="220.63" y2="256.30" stroke="#4a0c18" stroke-width="0.55" stroke-linecap="butt"/>
<line x1="222.38" y1="254.50" x2="222.38" y2="256.30" stroke="#4a0c18" stroke-width="0.55" stroke-linecap="butt"/>
<line x1="223.62" y1="254.50" x2="223.62" y2="256.30" stroke="#4a0c18" stroke-width="0.55" stroke-linecap="butt"/>
<line x1="224.58" y1="254.50" x2="224.58" y2="256.30" stroke="#4a0c18" stroke-width="0.55" stroke-linecap="butt"/>
<line x1="225.37" y1="254.50" x2="225.37" y2="256.30" stroke="#4a0c18" stroke-width="0.55" stroke-linecap="butt"/>
<line x1="226.03" y1="254.50" x2="226.03" y2="256.30" stroke="#4a0c18" stroke-width="0.55" stroke-linecap="butt"/>
<line x1="226.61" y1="254.50" x2="226.61" y2="256.30" stroke="#4a0c18" stroke-width="0.55" stroke-linecap="butt"/>
<line x1="227.12" y1="254.50" x2="227.12" y2="256.30" stroke="#4a0c18" stroke-width="0.55" stroke-linecap="butt"/>
<line x1="227.57" y1="254.50" x2="227.57" y2="257.30" stroke="#4a0c18" stroke-width="0.9" stroke-linecap="butt"/>
<line x1="230.56" y1="254.50" x2="230.56" y2="256.30" stroke="#4a0c18" stroke-width="0.55" stroke-linecap="butt"/>
<line x1="232.31" y1="254.50" x2="232.31" y2="256.30" stroke="#4a0c18" stroke-width="0.55" stroke-linecap="butt"/>
<line x1="233.55" y1="254.50" x2="233.55" y2="256.30" stroke="#4a0c18" stroke-width="0.55" stroke-linecap="butt"/>
<line x1="234.51" y1="254.50" x2="234.51" y2="256.30" stroke="#4a0c18" stroke-width="0.55" stroke-linecap="butt"/>
<line x1="235.30" y1="254.50" x2="235.30" y2="256.30" stroke="#4a0c18" stroke-width="0.55" stroke-linecap="butt"/>
<line x1="235.96" y1="254.50" x2="235.96" y2="256.30" stroke="#4a0c18" stroke-width="0.55" stroke-linecap="butt"/>
<line x1="236.54" y1="254.50" x2="236.54" y2="256.30" stroke="#4a0c18" stroke-width="0.55" stroke-linecap="butt"/>
<line x1="237.05" y1="254.50" x2="237.05" y2="256.30" stroke="#4a0c18" stroke-width="0.55" stroke-linecap="butt"/>
<line x1="237.50" y1="254.50" x2="237.50" y2="257.30" stroke="#4a0c18" stroke-width="0.9" stroke-linecap="butt"/>
<path d="M186.00,254.50 L186.14,254.38 L186.29,254.25 L186.43,254.11 L186.58,253.95 L186.72,253.77 L186.87,253.57 L187.01,253.35 L187.16,253.11 L187.30,252.85 L187.44,252.55 L187.59,252.23 L187.73,251.87 L187.88,251.47 L188.02,251.15 L188.17,250.92 L188.31,250.67 L188.46,250.39 L188.60,250.08 L188.74,249.72 L188.89,249.30 L189.03,248.83 L189.18,248.28 L189.32,247.64 L189.47,246.90 L189.61,246.03 L189.76,245.03 L189.90,243.88 L190.04,242.56 L190.19,241.05 L190.33,239.35 L190.48,237.43 L190.62,235.29 L190.77,232.93 L190.91,230.35 L191.06,227.57 L191.20,224.60 L191.34,221.47 L191.49,218.22 L191.63,214.89 L191.78,211.53 L191.92,208.20 L192.07,204.96 L192.21,201.89 L192.36,199.06 L192.50,196.54 L192.64,194.39 L192.79,192.66 L192.93,191.42 L193.08,190.69 L193.22,190.51 L193.37,191.01 L193.51,192.27 L193.66,194.24 L193.80,196.83 L193.94,199.95 L194.09,203.49 L194.23,207.34 L194.38,211.38 L194.52,215.49 L194.67,219.58 L194.81,223.56 L194.96,227.34 L195.10,230.88 L195.24,234.13 L195.39,237.07 L195.53,239.69 L195.68,241.98 L195.82,243.97 L195.97,245.66 L196.11,247.09 L196.26,248.29 L196.40,249.27 L196.54,250.08 L196.69,250.73 L196.83,251.26 L196.98,251.68 L197.12,252.12 L197.27,252.54 L197.41,252.89 L197.56,253.17 L197.70,253.40 L197.84,253.59 L197.99,253.76 L198.13,253.91 L198.28,254.03 L198.42,254.15 L198.57,254.25 L198.71,254.34 L198.86,254.42 L199.00,254.50 L199.00,254.50 L186.00,254.50 Z" fill="#dadade" stroke="#cfcfd4" stroke-width="0.4"/>
<path d="M167.50,253.87 L168.71,253.74 L169.91,254.18 L171.12,253.71 L172.33,253.69 L173.53,254.15 L174.74,253.70 L175.95,253.83 L177.16,253.66 L178.36,253.92 L179.57,253.63 L180.78,253.61 L181.98,254.18 L183.19,254.15 L184.40,253.66 L185.60,253.43 L186.81,254.00 L188.02,253.83 L189.22,253.73 L190.43,253.94 L191.64,253.91 L192.84,253.95 L194.05,253.90 L195.26,253.72 L196.47,253.96 L197.67,253.90 L198.88,253.58 L200.09,254.18 L201.29,253.74 L202.50,253.61 L203.71,253.95 L204.91,254.02 L206.12,253.56 L207.33,254.01 L208.53,254.05 L209.74,253.85 L210.95,253.64 L212.16,254.12 L213.36,253.94 L214.57,253.93 L215.78,253.53 L216.98,253.85 L218.19,253.52 L219.40,254.06 L220.60,253.93 L221.81,253.68 L223.02,253.49 L224.22,253.84 L225.43,254.02 L226.64,254.10 L227.84,253.78 L229.05,254.05 L230.26,253.55 L231.47,253.53 L232.67,254.05 L233.88,253.98 L235.09,253.55 L236.29,253.69 L237.50,253.55" fill="none" stroke="#2fa84a" stroke-width="1.1"/>
<path d="M167.50,253.92 L168.71,254.10 L169.91,253.97 L171.12,253.56 L172.33,253.98 L173.53,253.92 L174.74,253.87 L175.95,253.86 L177.16,253.87 L178.36,253.46 L179.57,254.08 L180.78,254.20 L181.98,253.45 L183.19,253.50 L184.40,253.41 L185.60,253.85 L186.81,253.44 L188.02,253.46 L189.22,254.02 L190.43,253.60 L191.64,253.53 L192.84,253.67 L194.05,253.78 L195.26,253.97 L196.47,253.93 L197.67,254.02 L198.88,254.15 L200.09,253.73 L201.29,253.97 L202.50,253.55 L203.71,254.16 L204.91,253.48 L206.12,253.65 L207.33,253.46 L208.53,253.48 L209.74,253.48 L210.95,253.74 L212.16,254.19 L213.36,253.60 L214.57,254.06 L215.78,253.96 L216.98,253.67 L218.19,253.78 L219.40,253.87 L220.60,253.45 L221.81,253.71 L223.02,253.93 L224.22,254.00 L225.43,253.51 L226.64,253.82 L227.84,253.57 L229.05,253.92 L230.26,254.04 L231.47,253.77 L232.67,253.55 L233.88,254.06 L235.09,253.57 L236.29,253.46 L237.50,253.56" fill="none" stroke="#b0102a" stroke-width="1.1"/>
<path d="M190.00,254.30 L190.33,254.25 L190.67,254.20 L191.00,254.14 L191.33,254.07 L191.67,254.00 L192.00,253.93 L192.33,253.84 L192.67,253.75 L193.00,253.65 L193.33,253.53 L193.67,253.41 L194.00,253.27 L194.33,253.11 L194.67,252.97 L195.00,252.87 L195.33,252.74 L195.67,252.59 L196.00,252.40 L196.33,252.16 L196.67,251.85 L197.00,251.45 L197.33,250.94 L197.67,250.28 L198.00,249.44 L198.33,248.38 L198.67,247.05 L199.00,245.41 L199.33,243.42 L199.67,241.04 L200.00,238.25 L200.33,235.03 L200.67,231.40 L201.00,227.38 L201.33,223.05 L201.67,218.49 L202.00,213.81 L202.33,209.17 L202.67,204.72 L203.00,200.64 L203.33,197.11 L203.67,194.30 L204.00,192.34 L204.33,191.33 L204.67,191.30 L205.00,192.11 L205.33,193.70 L205.67,196.00 L206.00,198.92 L206.33,202.34 L206.67,206.14 L207.00,210.20 L207.33,214.38 L207.67,218.57 L208.00,222.66 L208.33,226.58 L208.67,230.26 L209.00,233.64 L209.33,236.69 L209.67,239.40 L210.00,241.78 L210.33,243.82 L210.67,245.56 L211.00,247.02 L211.33,248.23 L211.67,249.22 L212.00,250.02 L212.33,250.67 L212.67,251.19 L213.00,251.60 L213.33,251.93 L213.67,252.20 L214.00,252.41 L214.33,252.58 L214.67,252.72 L215.00,252.84 L215.33,252.94 L215.67,253.07 L216.00,253.23 L216.33,253.37 L216.67,253.50 L217.00,253.62 L217.33,253.72 L217.67,253.82 L218.00,253.90 L218.33,253.98 L218.67,254.06 L219.00,254.13 L219.33,254.19 L219.67,254.25 L220.00,254.30" fill="none" stroke="#2fa84a" stroke-width="1.0"/>
<path d="M186.00,254.30 L186.31,254.25 L186.62,254.21 L186.93,254.15 L187.24,254.09 L187.56,254.03 L187.87,253.96 L188.18,253.88 L188.49,253.80 L188.80,253.71 L189.11,253.61 L189.42,253.50 L189.73,253.37 L190.04,253.24 L190.36,253.13 L190.67,253.05 L190.98,252.95 L191.29,252.85 L191.60,252.71 L191.91,252.55 L192.22,252.35 L192.53,252.09 L192.84,251.76 L193.16,251.33 L193.47,250.78 L193.78,250.06 L194.09,249.16 L194.40,248.01 L194.71,246.57 L195.02,244.81 L195.33,242.67 L195.64,240.12 L195.96,237.15 L196.27,233.74 L196.58,229.92 L196.89,225.73 L197.20,221.25 L197.51,216.57 L197.82,211.84 L198.13,207.20 L198.44,202.85 L198.76,198.96 L199.07,195.70 L199.38,193.25 L199.69,191.72 L200.00,191.20 L200.31,191.72 L200.62,193.25 L200.93,195.70 L201.24,198.96 L201.56,202.85 L201.87,207.20 L202.18,211.84 L202.49,216.57 L202.80,221.25 L203.11,225.73 L203.42,229.92 L203.73,233.74 L204.04,237.15 L204.36,240.12 L204.67,242.67 L204.98,244.81 L205.29,246.57 L205.60,248.01 L205.91,249.16 L206.22,250.06 L206.53,250.78 L206.84,251.33 L207.16,251.76 L207.47,252.09 L207.78,252.35 L208.09,252.55 L208.40,252.71 L208.71,252.85 L209.02,252.95 L209.33,253.05 L209.64,253.13 L209.96,253.24 L210.27,253.37 L210.58,253.50 L210.89,253.61 L211.20,253.71 L211.51,253.80 L211.82,253.88 L212.13,253.96 L212.44,254.03 L212.76,254.09 L213.07,254.15 L213.38,254.21 L213.69,254.25 L214.00,254.30" fill="none" stroke="#b0102a" stroke-width="1.0"/>
<text transform="translate(267.50,170.30)" font-size="11" text-anchor="start" fill="#000" font-weight="bold" stroke="#000" stroke-width="0.2" >D</text>
<text transform="translate(332.80,183.80)" font-size="8.8" text-anchor="middle" fill="#1a1a1a" font-weight="normal" stroke="#1a1a1a" stroke-width="0.12" >BMDM</text>
<line x1="298.50" y1="189.50" x2="298.50" y2="255.10" stroke="#1a1a1a" stroke-width="1.2" stroke-linecap="butt"/>
<line x1="295.40" y1="254.50" x2="366.30" y2="254.50" stroke="#1a1a1a" stroke-width="1.2" stroke-linecap="butt"/>
<line x1="295.40" y1="254.50" x2="298.50" y2="254.50" stroke="#1a1a1a" stroke-width="1.0" stroke-linecap="butt"/>
<text transform="translate(292.20,256.70)" font-size="6.1" text-anchor="end" fill="#1a1a1a" font-weight="normal" stroke="#1a1a1a" stroke-width="0.12" >0</text>
<line x1="295.40" y1="242.64" x2="298.50" y2="242.64" stroke="#1a1a1a" stroke-width="1.0" stroke-linecap="butt"/>
<text transform="translate(292.20,244.84)" font-size="6.1" text-anchor="end" fill="#1a1a1a" font-weight="normal" stroke="#1a1a1a" stroke-width="0.12" >20</text>
<line x1="295.40" y1="230.78" x2="298.50" y2="230.78" stroke="#1a1a1a" stroke-width="1.0" stroke-linecap="butt"/>
<text transform="translate(292.20,232.98)" font-size="6.1" text-anchor="end" fill="#1a1a1a" font-weight="normal" stroke="#1a1a1a" stroke-width="0.12" >40</text>
<line x1="295.40" y1="218.92" x2="298.50" y2="218.92" stroke="#1a1a1a" stroke-width="1.0" stroke-linecap="butt"/>
<text transform="translate(292.20,221.12)" font-size="6.1" text-anchor="end" fill="#1a1a1a" font-weight="normal" stroke="#1a1a1a" stroke-width="0.12" >60</text>
<line x1="295.40" y1="207.06" x2="298.50" y2="207.06" stroke="#1a1a1a" stroke-width="1.0" stroke-linecap="butt"/>
<text transform="translate(292.20,209.26)" font-size="6.1" text-anchor="end" fill="#1a1a1a" font-weight="normal" stroke="#1a1a1a" stroke-width="0.12" >80</text>
<line x1="295.40" y1="195.20" x2="298.50" y2="195.20" stroke="#1a1a1a" stroke-width="1.0" stroke-linecap="butt"/>
<text transform="translate(292.20,197.40)" font-size="6.1" text-anchor="end" fill="#1a1a1a" font-weight="normal" stroke="#1a1a1a" stroke-width="0.12" >100</text>
<line x1="296.80" y1="254.50" x2="298.50" y2="254.50" stroke="#1a1a1a" stroke-width="0.6" stroke-linecap="butt"/>
<line x1="296.80" y1="252.13" x2="298.50" y2="252.13" stroke="#1a1a1a" stroke-width="0.6" stroke-linecap="butt"/>
<line x1="296.80" y1="249.76" x2="298.50" y2="249.76" stroke="#1a1a1a" stroke-width="0.6" stroke-linecap="butt"/>
<line x1="296.80" y1="247.38" x2="298.50" y2="247.38" stroke="#1a1a1a" stroke-width="0.6" stroke-linecap="butt"/>
<line x1="296.80" y1="245.01" x2="298.50" y2="245.01" stroke="#1a1a1a" stroke-width="0.6" stroke-linecap="butt"/>
<line x1="296.80" y1="242.64" x2="298.50" y2="242.64" stroke="#1a1a1a" stroke-width="0.6" stroke-linecap="butt"/>
<line x1="296.80" y1="240.27" x2="298.50" y2="240.27" stroke="#1a1a1a" stroke-width="0.6" stroke-linecap="butt"/>
<line x1="296.80" y1="237.90" x2="298.50" y2="237.90" stroke="#1a1a1a" stroke-width="0.6" stroke-linecap="butt"/>
<line x1="296.80" y1="235.52" x2="298.50" y2="235.52" stroke="#1a1a1a" stroke-width="0.6" stroke-linecap="butt"/>
<line x1="296.80" y1="233.15" x2="298.50" y2="233.15" stroke="#1a1a1a" stroke-width="0.6" stroke-linecap="butt"/>
<line x1="296.80" y1="230.78" x2="298.50" y2="230.78" stroke="#1a1a1a" stroke-width="0.6" stroke-linecap="butt"/>
<line x1="296.80" y1="228.41" x2="298.50" y2="228.41" stroke="#1a1a1a" stroke-width="0.6" stroke-linecap="butt"/>
<line x1="296.80" y1="226.04" x2="298.50" y2="226.04" stroke="#1a1a1a" stroke-width="0.6" stroke-linecap="butt"/>
<line x1="296.80" y1="223.66" x2="298.50" y2="223.66" stroke="#1a1a1a" stroke-width="0.6" stroke-linecap="butt"/>
<line x1="296.80" y1="221.29" x2="298.50" y2="221.29" stroke="#1a1a1a" stroke-width="0.6" stroke-linecap="butt"/>
<line x1="296.80" y1="218.92" x2="298.50" y2="218.92" stroke="#1a1a1a" stroke-width="0.6" stroke-linecap="butt"/>
<line x1="296.80" y1="216.55" x2="298.50" y2="216.55" stroke="#1a1a1a" stroke-width="0.6" stroke-linecap="butt"/>
<line x1="296.80" y1="214.18" x2="298.50" y2="214.18" stroke="#1a1a1a" stroke-width="0.6" stroke-linecap="butt"/>
<line x1="296.80" y1="211.80" x2="298.50" y2="211.80" stroke="#1a1a1a" stroke-width="0.6" stroke-linecap="butt"/>
<line x1="296.80" y1="209.43" x2="298.50" y2="209.43" stroke="#1a1a1a" stroke-width="0.6" stroke-linecap="butt"/>
<line x1="296.80" y1="207.06" x2="298.50" y2="207.06" stroke="#1a1a1a" stroke-width="0.6" stroke-linecap="butt"/>
<line x1="296.80" y1="204.69" x2="298.50" y2="204.69" stroke="#1a1a1a" stroke-width="0.6" stroke-linecap="butt"/>
<line x1="296.80" y1="202.32" x2="298.50" y2="202.32" stroke="#1a1a1a" stroke-width="0.6" stroke-linecap="butt"/>
<line x1="296.80" y1="199.94" x2="298.50" y2="199.94" stroke="#1a1a1a" stroke-width="0.6" stroke-linecap="butt"/>
<line x1="296.80" y1="197.57" x2="298.50" y2="197.57" stroke="#1a1a1a" stroke-width="0.6" stroke-linecap="butt"/>
<line x1="296.80" y1="195.20" x2="298.50" y2="195.20" stroke="#1a1a1a" stroke-width="0.6" stroke-linecap="butt"/>
<line x1="296.80" y1="192.83" x2="298.50" y2="192.83" stroke="#1a1a1a" stroke-width="0.6" stroke-linecap="butt"/>
<line x1="296.80" y1="190.46" x2="298.50" y2="190.46" stroke="#1a1a1a" stroke-width="0.6" stroke-linecap="butt"/>
<line x1="298.50" y1="254.50" x2="298.50" y2="257.30" stroke="#4a0c18" stroke-width="0.9" stroke-linecap="butt"/>
<line x1="301.42" y1="254.50" x2="301.42" y2="256.30" stroke="#4a0c18" stroke-width="0.55" stroke-linecap="butt"/>
<line x1="303.12" y1="254.50" x2="303.12" y2="256.30" stroke="#4a0c18" stroke-width="0.55" stroke-linecap="butt"/>
<line x1="304.33" y1="254.50" x2="304.33" y2="256.30" stroke="#4a0c18" stroke-width="0.55" stroke-linecap="butt"/>
<line x1="305.27" y1="254.50" x2="305.27" y2="256.30" stroke="#4a0c18" stroke-width="0.55" stroke-linecap="butt"/>
<line x1="306.04" y1="254.50" x2="306.04" y2="256.30" stroke="#4a0c18" stroke-width="0.55" stroke-linecap="butt"/>
<line x1="306.69" y1="254.50" x2="306.69" y2="256.30" stroke="#4a0c18" stroke-width="0.55" stroke-linecap="butt"/>
<line x1="307.25" y1="254.50" x2="307.25" y2="256.30" stroke="#4a0c18" stroke-width="0.55" stroke-linecap="butt"/>
<line x1="307.74" y1="254.50" x2="307.74" y2="256.30" stroke="#4a0c18" stroke-width="0.55" stroke-linecap="butt"/>
<line x1="308.19" y1="254.50" x2="308.19" y2="257.30" stroke="#4a0c18" stroke-width="0.9" stroke-linecap="butt"/>
<line x1="311.10" y1="254.50" x2="311.10" y2="256.30" stroke="#4a0c18" stroke-width="0.55" stroke-linecap="butt"/>
<line x1="312.81" y1="254.50" x2="312.81" y2="256.30" stroke="#4a0c18" stroke-width="0.55" stroke-linecap="butt"/>
<line x1="314.02" y1="254.50" x2="314.02" y2="256.30" stroke="#4a0c18" stroke-width="0.55" stroke-linecap="butt"/>
<line x1="314.96" y1="254.50" x2="314.96" y2="256.30" stroke="#4a0c18" stroke-width="0.55" stroke-linecap="butt"/>
<line x1="315.72" y1="254.50" x2="315.72" y2="256.30" stroke="#4a0c18" stroke-width="0.55" stroke-linecap="butt"/>
<line x1="316.37" y1="254.50" x2="316.37" y2="256.30" stroke="#4a0c18" stroke-width="0.55" stroke-linecap="butt"/>
<line x1="316.93" y1="254.50" x2="316.93" y2="256.30" stroke="#4a0c18" stroke-width="0.55" stroke-linecap="butt"/>
<line x1="317.43" y1="254.50" x2="317.43" y2="256.30" stroke="#4a0c18" stroke-width="0.55" stroke-linecap="butt"/>
<line x1="317.87" y1="254.50" x2="317.87" y2="257.30" stroke="#4a0c18" stroke-width="0.9" stroke-linecap="butt"/>
<line x1="320.79" y1="254.50" x2="320.79" y2="256.30" stroke="#4a0c18" stroke-width="0.55" stroke-linecap="butt"/>
<line x1="322.49" y1="254.50" x2="322.49" y2="256.30" stroke="#4a0c18" stroke-width="0.55" stroke-linecap="butt"/>
<line x1="323.70" y1="254.50" x2="323.70" y2="256.30" stroke="#4a0c18" stroke-width="0.55" stroke-linecap="butt"/>
<line x1="324.64" y1="254.50" x2="324.64" y2="256.30" stroke="#4a0c18" stroke-width="0.55" stroke-linecap="butt"/>
<line x1="325.41" y1="254.50" x2="325.41" y2="256.30" stroke="#4a0c18" stroke-width="0.55" stroke-linecap="butt"/>
<line x1="326.06" y1="254.50" x2="326.06" y2="256.30" stroke="#4a0c18" stroke-width="0.55" stroke-linecap="butt"/>
<line x1="326.62" y1="254.50" x2="326.62" y2="256.30" stroke="#4a0c18" stroke-width="0.55" stroke-linecap="butt"/>
<line x1="327.11" y1="254.50" x2="327.11" y2="256.30" stroke="#4a0c18" stroke-width="0.55" stroke-linecap="butt"/>
<line x1="327.56" y1="254.50" x2="327.56" y2="257.30" stroke="#4a0c18" stroke-width="0.9" stroke-linecap="butt"/>
<line x1="330.47" y1="254.50" x2="330.47" y2="256.30" stroke="#4a0c18" stroke-width="0.55" stroke-linecap="butt"/>
<line x1="332.18" y1="254.50" x2="332.18" y2="256.30" stroke="#4a0c18" stroke-width="0.55" stroke-linecap="butt"/>
<line x1="333.39" y1="254.50" x2="333.39" y2="256.30" stroke="#4a0c18" stroke-width="0.55" stroke-linecap="butt"/>
<line x1="334.33" y1="254.50" x2="334.33" y2="256.30" stroke="#4a0c18" stroke-width="0.55" stroke-linecap="butt"/>
<line x1="335.09" y1="254.50" x2="335.09" y2="256.30" stroke="#4a0c18" stroke-width="0.55" stroke-linecap="butt"/>
<line x1="335.74" y1="254.50" x2="335.74" y2="256.30" stroke="#4a0c18" stroke-width="0.55" stroke-linecap="butt"/>
<line x1="336.30" y1="254.50" x2="336.30" y2="256.30" stroke="#4a0c18" stroke-width="0.55" stroke-linecap="butt"/>
<line x1="336.80" y1="254.50" x2="336.80" y2="256.30" stroke="#4a0c18" stroke-width="0.55" stroke-linecap="butt"/>
<line x1="337.24" y1="254.50" x2="337.24" y2="257.30" stroke="#4a0c18" stroke-width="0.9" stroke-linecap="butt"/>
<line x1="340.16" y1="254.50" x2="340.16" y2="256.30" stroke="#4a0c18" stroke-width="0.55" stroke-linecap="butt"/>
<line x1="341.86" y1="254.50" x2="341.86" y2="256.30" stroke="#4a0c18" stroke-width="0.55" stroke-linecap="butt"/>
<line x1="343.07" y1="254.50" x2="343.07" y2="256.30" stroke="#4a0c18" stroke-width="0.55" stroke-linecap="butt"/>
<line x1="344.01" y1="254.50" x2="344.01" y2="256.30" stroke="#4a0c18" stroke-width="0.55" stroke-linecap="butt"/>
<line x1="344.78" y1="254.50" x2="344.78" y2="256.30" stroke="#4a0c18" stroke-width="0.55" stroke-linecap="butt"/>
<line x1="345.43" y1="254.50" x2="345.43" y2="256.30" stroke="#4a0c18" stroke-width="0.55" stroke-linecap="butt"/>
<line x1="345.99" y1="254.50" x2="345.99" y2="256.30" stroke="#4a0c18" stroke-width="0.55" stroke-linecap="butt"/>
<line x1="346.49" y1="254.50" x2="346.49" y2="256.30" stroke="#4a0c18" stroke-width="0.55" stroke-linecap="butt"/>
<line x1="346.93" y1="254.50" x2="346.93" y2="257.30" stroke="#4a0c18" stroke-width="0.9" stroke-linecap="butt"/>
<line x1="349.84" y1="254.50" x2="349.84" y2="256.30" stroke="#4a0c18" stroke-width="0.55" stroke-linecap="butt"/>
<line x1="351.55" y1="254.50" x2="351.55" y2="256.30" stroke="#4a0c18" stroke-width="0.55" stroke-linecap="butt"/>
<line x1="352.76" y1="254.50" x2="352.76" y2="256.30" stroke="#4a0c18" stroke-width="0.55" stroke-linecap="butt"/>
<line x1="353.70" y1="254.50" x2="353.70" y2="256.30" stroke="#4a0c18" stroke-width="0.55" stroke-linecap="butt"/>
<line x1="354.47" y1="254.50" x2="354.47" y2="256.30" stroke="#4a0c18" stroke-width="0.55" stroke-linecap="butt"/>
<line x1="355.11" y1="254.50" x2="355.11" y2="256.30" stroke="#4a0c18" stroke-width="0.55" stroke-linecap="butt"/>
<line x1="355.68" y1="254.50" x2="355.68" y2="256.30" stroke="#4a0c18" stroke-width="0.55" stroke-linecap="butt"/>
<line x1="356.17" y1="254.50" x2="356.17" y2="256.30" stroke="#4a0c18" stroke-width="0.55" stroke-linecap="butt"/>
<line x1="356.61" y1="254.50" x2="356.61" y2="257.30" stroke="#4a0c18" stroke-width="0.9" stroke-linecap="butt"/>
<line x1="359.53" y1="254.50" x2="359.53" y2="256.30" stroke="#4a0c18" stroke-width="0.55" stroke-linecap="butt"/>
<line x1="361.24" y1="254.50" x2="361.24" y2="256.30" stroke="#4a0c18" stroke-width="0.55" stroke-linecap="butt"/>
<line x1="362.45" y1="254.50" x2="362.45" y2="256.30" stroke="#4a0c18" stroke-width="0.55" stroke-linecap="butt"/>
<line x1="363.38" y1="254.50" x2="363.38" y2="256.30" stroke="#4a0c18" stroke-width="0.55" stroke-linecap="butt"/>
<line x1="364.15" y1="254.50" x2="364.15" y2="256.30" stroke="#4a0c18" stroke-width="0.55" stroke-linecap="butt"/>
<line x1="364.80" y1="254.50" x2="364.80" y2="256.30" stroke="#4a0c18" stroke-width="0.55" stroke-linecap="butt"/>
<line x1="365.36" y1="254.50" x2="365.36" y2="256.30" stroke="#4a0c18" stroke-width="0.55" stroke-linecap="butt"/>
<line x1="365.86" y1="254.50" x2="365.86" y2="256.30" stroke="#4a0c18" stroke-width="0.55" stroke-linecap="butt"/>
<line x1="366.30" y1="254.50" x2="366.30" y2="257.30" stroke="#4a0c18" stroke-width="0.9" stroke-linecap="butt"/>
<path d="M318.00,254.50 L318.15,254.41 L318.30,254.32 L318.45,254.21 L318.60,254.09 L318.75,253.96 L318.90,253.81 L319.05,253.65 L319.20,253.48 L319.35,253.28 L319.50,253.06 L319.65,252.82 L319.80,252.56 L319.95,252.26 L320.10,252.03 L320.25,251.86 L320.40,251.68 L320.55,251.47 L320.70,251.24 L320.85,250.97 L321.00,250.66 L321.15,250.30 L321.30,249.88 L321.45,249.38 L321.60,248.80 L321.75,248.12 L321.90,247.31 L322.05,246.37 L322.20,245.26 L322.35,243.99 L322.50,242.52 L322.65,240.85 L322.80,238.96 L322.95,236.84 L323.10,234.50 L323.25,231.93 L323.40,229.16 L323.55,226.20 L323.70,223.09 L323.85,219.87 L324.00,216.58 L324.15,213.30 L324.30,210.07 L324.45,206.98 L324.60,204.10 L324.75,201.50 L324.90,199.26 L325.05,197.44 L325.20,196.10 L325.35,195.28 L325.50,195.00 L325.65,195.39 L325.80,196.54 L325.95,198.39 L326.10,200.88 L326.25,203.90 L326.40,207.34 L326.55,211.08 L326.70,215.00 L326.85,218.97 L327.00,222.90 L327.15,226.70 L327.30,230.29 L327.45,233.62 L327.60,236.65 L327.75,239.36 L327.90,241.75 L328.05,243.82 L328.20,245.59 L328.35,247.08 L328.50,248.32 L328.65,249.34 L328.80,250.17 L328.95,250.84 L329.10,251.38 L329.25,251.81 L329.40,252.15 L329.55,252.50 L329.70,252.85 L329.85,253.13 L330.00,253.36 L330.15,253.55 L330.30,253.72 L330.45,253.86 L330.60,253.98 L330.75,254.09 L330.90,254.19 L331.05,254.28 L331.20,254.36 L331.35,254.43 L331.50,254.50 L331.50,254.50 L318.00,254.50 Z" fill="#dadade" stroke="#cfcfd4" stroke-width="0.4"/>
<path d="M319.00,254.50 L319.29,254.47 L319.58,254.43 L319.87,254.39 L320.16,254.35 L320.44,254.30 L320.73,254.25 L321.02,254.19 L321.31,254.11 L321.60,254.03 L321.89,253.93 L322.18,253.80 L322.47,253.63 L322.76,253.42 L323.04,253.18 L323.33,252.91 L323.62,252.57 L323.91,252.11 L324.20,251.51 L324.49,250.74 L324.78,249.75 L325.07,248.51 L325.36,246.98 L325.64,245.11 L325.93,242.88 L326.22,240.26 L326.51,237.24 L326.80,233.83 L327.09,230.07 L327.38,226.01 L327.67,221.73 L327.96,217.34 L328.24,212.97 L328.53,208.77 L328.82,204.90 L329.11,201.50 L329.40,198.74 L329.69,196.73 L329.98,195.57 L330.27,195.32 L330.56,195.89 L330.84,197.22 L331.13,199.24 L331.42,201.89 L331.71,205.06 L332.00,208.62 L332.29,212.47 L332.58,216.47 L332.87,220.52 L333.16,224.50 L333.44,228.33 L333.73,231.93 L334.02,235.25 L334.31,238.26 L334.60,240.93 L334.89,243.27 L335.18,245.28 L335.47,246.99 L335.76,248.41 L336.04,249.58 L336.33,250.53 L336.62,251.29 L336.91,251.89 L337.20,252.36 L337.49,252.73 L337.78,253.02 L338.07,253.24 L338.36,253.41 L338.64,253.54 L338.93,253.64 L339.22,253.72 L339.51,253.79 L339.80,253.84 L340.09,253.88 L340.38,253.92 L340.67,253.95 L340.96,253.98 L341.24,254.03 L341.53,254.08 L341.82,254.14 L342.11,254.18 L342.40,254.23 L342.69,254.27 L342.98,254.31 L343.27,254.34 L343.56,254.37 L343.84,254.40 L344.13,254.43 L344.42,254.45 L344.71,254.48 L345.00,254.50 L345.00,254.50 L319.00,254.50 Z" fill="#e98572" fill-opacity="0.85" stroke="none"/>
<path d="M298.00,253.54 L299.22,254.19 L300.44,253.70 L301.66,253.51 L302.88,254.16 L304.10,253.98 L305.32,253.99 L306.54,253.78 L307.76,253.86 L308.98,253.82 L310.20,253.58 L311.42,254.20 L312.64,254.16 L313.86,254.10 L315.07,254.10 L316.29,254.15 L317.51,253.42 L318.73,253.52 L319.95,254.13 L321.17,253.80 L322.39,253.95 L323.61,253.95 L324.83,253.92 L326.05,253.68 L327.27,253.73 L328.49,253.91 L329.71,254.05 L330.93,253.94 L332.15,254.10 L333.37,253.76 L334.59,253.63 L335.81,253.90 L337.03,254.14 L338.25,254.06 L339.47,253.90 L340.69,253.72 L341.91,253.57 L343.13,253.90 L344.35,253.56 L345.57,253.70 L346.79,253.85 L348.01,253.90 L349.23,253.80 L350.44,253.64 L351.66,253.86 L352.88,253.64 L354.10,253.83 L355.32,254.00 L356.54,253.77 L357.76,253.64 L358.98,254.14 L360.20,253.86 L361.42,253.86 L362.64,253.50 L363.86,253.45 L365.08,253.90 L366.30,253.48" fill="none" stroke="#b0102a" stroke-width="1.1"/>
<path d="M319.00,254.50 L319.29,254.47 L319.58,254.43 L319.87,254.39 L320.16,254.35 L320.44,254.30 L320.73,254.25 L321.02,254.19 L321.31,254.11 L321.60,254.03 L321.89,253.93 L322.18,253.80 L322.47,253.63 L322.76,253.42 L323.04,253.18 L323.33,252.91 L323.62,252.57 L323.91,252.11 L324.20,251.51 L324.49,250.74 L324.78,249.75 L325.07,248.51 L325.36,246.98 L325.64,245.11 L325.93,242.88 L326.22,240.26 L326.51,237.24 L326.80,233.83 L327.09,230.07 L327.38,226.01 L327.67,221.73 L327.96,217.34 L328.24,212.97 L328.53,208.77 L328.82,204.90 L329.11,201.50 L329.40,198.74 L329.69,196.73 L329.98,195.57 L330.27,195.32 L330.56,195.89 L330.84,197.22 L331.13,199.24 L331.42,201.89 L331.71,205.06 L332.00,208.62 L332.29,212.47 L332.58,216.47 L332.87,220.52 L333.16,224.50 L333.44,228.33 L333.73,231.93 L334.02,235.25 L334.31,238.26 L334.60,240.93 L334.89,243.27 L335.18,245.28 L335.47,246.99 L335.76,248.41 L336.04,249.58 L336.33,250.53 L336.62,251.29 L336.91,251.89 L337.20,252.36 L337.49,252.73 L337.78,253.02 L338.07,253.24 L338.36,253.41 L338.64,253.54 L338.93,253.64 L339.22,253.72 L339.51,253.79 L339.80,253.84 L340.09,253.88 L340.38,253.92 L340.67,253.95 L340.96,253.98 L341.24,254.03 L341.53,254.08 L341.82,254.14 L342.11,254.18 L342.40,254.23 L342.69,254.27 L342.98,254.31 L343.27,254.34 L343.56,254.37 L343.84,254.40 L344.13,254.43 L344.42,254.45 L344.71,254.48 L345.00,254.50" fill="none" stroke="#b0102a" stroke-width="1.0"/>
<rect x="339.25" y="214.00" width="5.80" height="5.80" fill="#dadade"/>
<text transform="translate(348.00,218.90)" font-size="5.6" text-anchor="start" fill="#1a1a1a" font-weight="normal" stroke="#1a1a1a" stroke-width="0.12" >Isotype</text>
<rect x="339.25" y="223.80" width="5.80" height="5.80" fill="#c4122f"/>
<text transform="translate(348.00,228.70)" font-size="5.6" text-anchor="start" fill="#1a1a1a" font-weight="normal" stroke="#1a1a1a" stroke-width="0.12" >CCR1</text>
<text transform="translate(445.90,183.80)" font-size="8.8" text-anchor="middle" fill="#1a1a1a" font-weight="normal" stroke="#1a1a1a" stroke-width="0.12" >PEM</text>
<line x1="414.20" y1="192.50" x2="414.20" y2="255.10" stroke="#1a1a1a" stroke-width="1.2" stroke-linecap="butt"/>
<line x1="411.10" y1="254.50" x2="477.50" y2="254.50" stroke="#1a1a1a" stroke-width="1.2" stroke-linecap="butt"/>
<line x1="411.10" y1="254.50" x2="414.20" y2="254.50" stroke="#1a1a1a" stroke-width="1.0" stroke-linecap="butt"/>
<line x1="411.10" y1="243.30" x2="414.20" y2="243.30" stroke="#1a1a1a" stroke-width="1.0" stroke-linecap="butt"/>
<line x1="411.10" y1="232.10" x2="414.20" y2="232.10" stroke="#1a1a1a" stroke-width="1.0" stroke-linecap="butt"/>
<line x1="411.10" y1="220.90" x2="414.20" y2="220.90" stroke="#1a1a1a" stroke-width="1.0" stroke-linecap="butt"/>
<line x1="411.10" y1="209.70" x2="414.20" y2="209.70" stroke="#1a1a1a" stroke-width="1.0" stroke-linecap="butt"/>
<line x1="411.10" y1="198.50" x2="414.20" y2="198.50" stroke="#1a1a1a" stroke-width="1.0" stroke-linecap="butt"/>
<line x1="412.50" y1="254.50" x2="414.20" y2="254.50" stroke="#1a1a1a" stroke-width="0.6" stroke-linecap="butt"/>
<line x1="412.50" y1="252.26" x2="414.20" y2="252.26" stroke="#1a1a1a" stroke-width="0.6" stroke-linecap="butt"/>
<line x1="412.50" y1="250.02" x2="414.20" y2="250.02" stroke="#1a1a1a" stroke-width="0.6" stroke-linecap="butt"/>
<line x1="412.50" y1="247.78" x2="414.20" y2="247.78" stroke="#1a1a1a" stroke-width="0.6" stroke-linecap="butt"/>
<line x1="412.50" y1="245.54" x2="414.20" y2="245.54" stroke="#1a1a1a" stroke-width="0.6" stroke-linecap="butt"/>
<line x1="412.50" y1="243.30" x2="414.20" y2="243.30" stroke="#1a1a1a" stroke-width="0.6" stroke-linecap="butt"/>
<line x1="412.50" y1="241.06" x2="414.20" y2="241.06" stroke="#1a1a1a" stroke-width="0.6" stroke-linecap="butt"/>
<line x1="412.50" y1="238.82" x2="414.20" y2="238.82" stroke="#1a1a1a" stroke-width="0.6" stroke-linecap="butt"/>
<line x1="412.50" y1="236.58" x2="414.20" y2="236.58" stroke="#1a1a1a" stroke-width="0.6" stroke-linecap="butt"/>
<line x1="412.50" y1="234.34" x2="414.20" y2="234.34" stroke="#1a1a1a" stroke-width="0.6" stroke-linecap="butt"/>
<line x1="412.50" y1="232.10" x2="414.20" y2="232.10" stroke="#1a1a1a" stroke-width="0.6" stroke-linecap="butt"/>
<line x1="412.50" y1="229.86" x2="414.20" y2="229.86" stroke="#1a1a1a" stroke-width="0.6" stroke-linecap="butt"/>
<line x1="412.50" y1="227.62" x2="414.20" y2="227.62" stroke="#1a1a1a" stroke-width="0.6" stroke-linecap="butt"/>
<line x1="412.50" y1="225.38" x2="414.20" y2="225.38" stroke="#1a1a1a" stroke-width="0.6" stroke-linecap="butt"/>
<line x1="412.50" y1="223.14" x2="414.20" y2="223.14" stroke="#1a1a1a" stroke-width="0.6" stroke-linecap="butt"/>
<line x1="412.50" y1="220.90" x2="414.20" y2="220.90" stroke="#1a1a1a" stroke-width="0.6" stroke-linecap="butt"/>
<line x1="412.50" y1="218.66" x2="414.20" y2="218.66" stroke="#1a1a1a" stroke-width="0.6" stroke-linecap="butt"/>
<line x1="412.50" y1="216.42" x2="414.20" y2="216.42" stroke="#1a1a1a" stroke-width="0.6" stroke-linecap="butt"/>
<line x1="412.50" y1="214.18" x2="414.20" y2="214.18" stroke="#1a1a1a" stroke-width="0.6" stroke-linecap="butt"/>
<line x1="412.50" y1="211.94" x2="414.20" y2="211.94" stroke="#1a1a1a" stroke-width="0.6" stroke-linecap="butt"/>
<line x1="412.50" y1="209.70" x2="414.20" y2="209.70" stroke="#1a1a1a" stroke-width="0.6" stroke-linecap="butt"/>
<line x1="412.50" y1="207.46" x2="414.20" y2="207.46" stroke="#1a1a1a" stroke-width="0.6" stroke-linecap="butt"/>
<line x1="412.50" y1="205.22" x2="414.20" y2="205.22" stroke="#1a1a1a" stroke-width="0.6" stroke-linecap="butt"/>
<line x1="412.50" y1="202.98" x2="414.20" y2="202.98" stroke="#1a1a1a" stroke-width="0.6" stroke-linecap="butt"/>
<line x1="412.50" y1="200.74" x2="414.20" y2="200.74" stroke="#1a1a1a" stroke-width="0.6" stroke-linecap="butt"/>
<line x1="412.50" y1="198.50" x2="414.20" y2="198.50" stroke="#1a1a1a" stroke-width="0.6" stroke-linecap="butt"/>
<line x1="412.50" y1="196.26" x2="414.20" y2="196.26" stroke="#1a1a1a" stroke-width="0.6" stroke-linecap="butt"/>
<line x1="412.50" y1="194.02" x2="414.20" y2="194.02" stroke="#1a1a1a" stroke-width="0.6" stroke-linecap="butt"/>
<line x1="414.20" y1="254.50" x2="414.20" y2="257.30" stroke="#4a0c18" stroke-width="0.9" stroke-linecap="butt"/>
<line x1="416.92" y1="254.50" x2="416.92" y2="256.30" stroke="#4a0c18" stroke-width="0.55" stroke-linecap="butt"/>
<line x1="418.51" y1="254.50" x2="418.51" y2="256.30" stroke="#4a0c18" stroke-width="0.55" stroke-linecap="butt"/>
<line x1="419.64" y1="254.50" x2="419.64" y2="256.30" stroke="#4a0c18" stroke-width="0.55" stroke-linecap="butt"/>
<line x1="420.52" y1="254.50" x2="420.52" y2="256.30" stroke="#4a0c18" stroke-width="0.55" stroke-linecap="butt"/>
<line x1="421.24" y1="254.50" x2="421.24" y2="256.30" stroke="#4a0c18" stroke-width="0.55" stroke-linecap="butt"/>
<line x1="421.84" y1="254.50" x2="421.84" y2="256.30" stroke="#4a0c18" stroke-width="0.55" stroke-linecap="butt"/>
<line x1="422.37" y1="254.50" x2="422.37" y2="256.30" stroke="#4a0c18" stroke-width="0.55" stroke-linecap="butt"/>
<line x1="422.83" y1="254.50" x2="422.83" y2="256.30" stroke="#4a0c18" stroke-width="0.55" stroke-linecap="butt"/>
<line x1="423.24" y1="254.50" x2="423.24" y2="257.30" stroke="#4a0c18" stroke-width="0.9" stroke-linecap="butt"/>
<line x1="425.97" y1="254.50" x2="425.97" y2="256.30" stroke="#4a0c18" stroke-width="0.55" stroke-linecap="butt"/>
<line x1="427.56" y1="254.50" x2="427.56" y2="256.30" stroke="#4a0c18" stroke-width="0.55" stroke-linecap="butt"/>
<line x1="428.69" y1="254.50" x2="428.69" y2="256.30" stroke="#4a0c18" stroke-width="0.55" stroke-linecap="butt"/>
<line x1="429.56" y1="254.50" x2="429.56" y2="256.30" stroke="#4a0c18" stroke-width="0.55" stroke-linecap="butt"/>
<line x1="430.28" y1="254.50" x2="430.28" y2="256.30" stroke="#4a0c18" stroke-width="0.55" stroke-linecap="butt"/>
<line x1="430.88" y1="254.50" x2="430.88" y2="256.30" stroke="#4a0c18" stroke-width="0.55" stroke-linecap="butt"/>
<line x1="431.41" y1="254.50" x2="431.41" y2="256.30" stroke="#4a0c18" stroke-width="0.55" stroke-linecap="butt"/>
<line x1="431.87" y1="254.50" x2="431.87" y2="256.30" stroke="#4a0c18" stroke-width="0.55" stroke-linecap="butt"/>
<line x1="432.29" y1="254.50" x2="432.29" y2="257.30" stroke="#4a0c18" stroke-width="0.9" stroke-linecap="butt"/>
<line x1="435.01" y1="254.50" x2="435.01" y2="256.30" stroke="#4a0c18" stroke-width="0.55" stroke-linecap="butt"/>
<line x1="436.60" y1="254.50" x2="436.60" y2="256.30" stroke="#4a0c18" stroke-width="0.55" stroke-linecap="butt"/>
<line x1="437.73" y1="254.50" x2="437.73" y2="256.30" stroke="#4a0c18" stroke-width="0.55" stroke-linecap="butt"/>
<line x1="438.61" y1="254.50" x2="438.61" y2="256.30" stroke="#4a0c18" stroke-width="0.55" stroke-linecap="butt"/>
<line x1="439.32" y1="254.50" x2="439.32" y2="256.30" stroke="#4a0c18" stroke-width="0.55" stroke-linecap="butt"/>
<line x1="439.93" y1="254.50" x2="439.93" y2="256.30" stroke="#4a0c18" stroke-width="0.55" stroke-linecap="butt"/>
<line x1="440.45" y1="254.50" x2="440.45" y2="256.30" stroke="#4a0c18" stroke-width="0.55" stroke-linecap="butt"/>
<line x1="440.91" y1="254.50" x2="440.91" y2="256.30" stroke="#4a0c18" stroke-width="0.55" stroke-linecap="butt"/>
<line x1="441.33" y1="254.50" x2="441.33" y2="257.30" stroke="#4a0c18" stroke-width="0.9" stroke-linecap="butt"/>
<line x1="444.05" y1="254.50" x2="444.05" y2="256.30" stroke="#4a0c18" stroke-width="0.55" stroke-linecap="butt"/>
<line x1="445.64" y1="254.50" x2="445.64" y2="256.30" stroke="#4a0c18" stroke-width="0.55" stroke-linecap="butt"/>
<line x1="446.77" y1="254.50" x2="446.77" y2="256.30" stroke="#4a0c18" stroke-width="0.55" stroke-linecap="butt"/>
<line x1="447.65" y1="254.50" x2="447.65" y2="256.30" stroke="#4a0c18" stroke-width="0.55" stroke-linecap="butt"/>
<line x1="448.37" y1="254.50" x2="448.37" y2="256.30" stroke="#4a0c18" stroke-width="0.55" stroke-linecap="butt"/>
<line x1="448.97" y1="254.50" x2="448.97" y2="256.30" stroke="#4a0c18" stroke-width="0.55" stroke-linecap="butt"/>
<line x1="449.50" y1="254.50" x2="449.50" y2="256.30" stroke="#4a0c18" stroke-width="0.55" stroke-linecap="butt"/>
<line x1="449.96" y1="254.50" x2="449.96" y2="256.30" stroke="#4a0c18" stroke-width="0.55" stroke-linecap="butt"/>
<line x1="450.37" y1="254.50" x2="450.37" y2="257.30" stroke="#4a0c18" stroke-width="0.9" stroke-linecap="butt"/>
<line x1="453.09" y1="254.50" x2="453.09" y2="256.30" stroke="#4a0c18" stroke-width="0.55" stroke-linecap="butt"/>
<line x1="454.69" y1="254.50" x2="454.69" y2="256.30" stroke="#4a0c18" stroke-width="0.55" stroke-linecap="butt"/>
<line x1="455.82" y1="254.50" x2="455.82" y2="256.30" stroke="#4a0c18" stroke-width="0.55" stroke-linecap="butt"/>
<line x1="456.69" y1="254.50" x2="456.69" y2="256.30" stroke="#4a0c18" stroke-width="0.55" stroke-linecap="butt"/>
<line x1="457.41" y1="254.50" x2="457.41" y2="256.30" stroke="#4a0c18" stroke-width="0.55" stroke-linecap="butt"/>
<line x1="458.01" y1="254.50" x2="458.01" y2="256.30" stroke="#4a0c18" stroke-width="0.55" stroke-linecap="butt"/>
<line x1="458.54" y1="254.50" x2="458.54" y2="256.30" stroke="#4a0c18" stroke-width="0.55" stroke-linecap="butt"/>
<line x1="459.00" y1="254.50" x2="459.00" y2="256.30" stroke="#4a0c18" stroke-width="0.55" stroke-linecap="butt"/>
<line x1="459.41" y1="254.50" x2="459.41" y2="257.30" stroke="#4a0c18" stroke-width="0.9" stroke-linecap="butt"/>
<line x1="462.14" y1="254.50" x2="462.14" y2="256.30" stroke="#4a0c18" stroke-width="0.55" stroke-linecap="butt"/>
<line x1="463.73" y1="254.50" x2="463.73" y2="256.30" stroke="#4a0c18" stroke-width="0.55" stroke-linecap="butt"/>
<line x1="464.86" y1="254.50" x2="464.86" y2="256.30" stroke="#4a0c18" stroke-width="0.55" stroke-linecap="butt"/>
<line x1="465.73" y1="254.50" x2="465.73" y2="256.30" stroke="#4a0c18" stroke-width="0.55" stroke-linecap="butt"/>
<line x1="466.45" y1="254.50" x2="466.45" y2="256.30" stroke="#4a0c18" stroke-width="0.55" stroke-linecap="butt"/>
<line x1="467.06" y1="254.50" x2="467.06" y2="256.30" stroke="#4a0c18" stroke-width="0.55" stroke-linecap="butt"/>
<line x1="467.58" y1="254.50" x2="467.58" y2="256.30" stroke="#4a0c18" stroke-width="0.55" stroke-linecap="butt"/>
<line x1="468.04" y1="254.50" x2="468.04" y2="256.30" stroke="#4a0c18" stroke-width="0.55" stroke-linecap="butt"/>
<line x1="468.46" y1="254.50" x2="468.46" y2="257.30" stroke="#4a0c18" stroke-width="0.9" stroke-linecap="butt"/>
<line x1="471.18" y1="254.50" x2="471.18" y2="256.30" stroke="#4a0c18" stroke-width="0.55" stroke-linecap="butt"/>
<line x1="472.77" y1="254.50" x2="472.77" y2="256.30" stroke="#4a0c18" stroke-width="0.55" stroke-linecap="butt"/>
<line x1="473.90" y1="254.50" x2="473.90" y2="256.30" stroke="#4a0c18" stroke-width="0.55" stroke-linecap="butt"/>
<line x1="474.78" y1="254.50" x2="474.78" y2="256.30" stroke="#4a0c18" stroke-width="0.55" stroke-linecap="butt"/>
<line x1="475.49" y1="254.50" x2="475.49" y2="256.30" stroke="#4a0c18" stroke-width="0.55" stroke-linecap="butt"/>
<line x1="476.10" y1="254.50" x2="476.10" y2="256.30" stroke="#4a0c18" stroke-width="0.55" stroke-linecap="butt"/>
<line x1="476.62" y1="254.50" x2="476.62" y2="256.30" stroke="#4a0c18" stroke-width="0.55" stroke-linecap="butt"/>
<line x1="477.09" y1="254.50" x2="477.09" y2="256.30" stroke="#4a0c18" stroke-width="0.55" stroke-linecap="butt"/>
<line x1="477.50" y1="254.50" x2="477.50" y2="257.30" stroke="#4a0c18" stroke-width="0.9" stroke-linecap="butt"/>
<path d="M431.00,254.50 L431.20,254.47 L431.40,254.44 L431.60,254.40 L431.80,254.36 L432.00,254.31 L432.20,254.25 L432.40,254.18 L432.60,254.09 L432.80,253.98 L433.00,253.83 L433.20,253.65 L433.40,253.41 L433.60,253.11 L433.80,252.79 L434.00,252.47 L434.20,252.08 L434.40,251.61 L434.60,251.05 L434.80,250.38 L435.00,249.60 L435.20,248.69 L435.40,247.64 L435.60,246.44 L435.80,245.07 L436.00,243.53 L436.20,241.81 L436.40,239.91 L436.60,237.83 L436.80,235.58 L437.00,233.17 L437.20,230.62 L437.40,227.94 L437.60,225.17 L437.80,222.33 L438.00,219.48 L438.20,216.64 L438.40,213.87 L438.60,211.22 L438.80,208.72 L439.00,206.45 L439.20,204.43 L439.40,202.71 L439.60,201.33 L439.80,200.32 L440.00,199.71 L440.20,199.50 L440.40,199.72 L440.60,200.36 L440.80,201.41 L441.00,202.85 L441.20,204.64 L441.40,206.74 L441.60,209.10 L441.80,211.68 L442.00,214.42 L442.20,217.27 L442.40,220.17 L442.60,223.09 L442.80,225.97 L443.00,228.78 L443.20,231.48 L443.40,234.05 L443.60,236.45 L443.80,238.69 L444.00,240.74 L444.20,242.60 L444.40,244.27 L444.60,245.76 L444.80,247.07 L445.00,248.22 L445.20,249.22 L445.40,250.07 L445.60,250.79 L445.80,251.41 L446.00,251.92 L446.20,252.35 L446.40,252.77 L446.60,253.16 L446.80,253.46 L447.00,253.70 L447.20,253.88 L447.40,254.02 L447.60,254.13 L447.80,254.22 L448.00,254.29 L448.20,254.35 L448.40,254.40 L448.60,254.44 L448.80,254.47 L449.00,254.50 L449.00,254.50 L431.00,254.50 Z" fill="#dadade" stroke="#cfcfd4" stroke-width="0.4"/>
<path d="M438.00,254.50 L438.38,254.47 L438.76,254.43 L439.13,254.39 L439.51,254.33 L439.89,254.25 L440.27,254.15 L440.64,254.01 L441.02,253.83 L441.40,253.58 L441.78,253.23 L442.16,252.77 L442.53,252.15 L442.91,251.33 L443.29,250.41 L443.67,249.42 L444.04,248.24 L444.42,246.83 L444.80,245.18 L445.18,243.26 L445.56,241.07 L445.93,238.60 L446.31,235.87 L446.69,232.89 L447.07,229.70 L447.44,226.33 L447.82,222.86 L448.20,219.35 L448.58,215.88 L448.96,212.54 L449.33,209.42 L449.71,206.62 L450.09,204.23 L450.47,202.31 L450.84,200.94 L451.22,200.17 L451.60,200.01 L451.98,200.23 L452.36,200.73 L452.73,201.50 L453.11,202.54 L453.49,203.82 L453.87,205.32 L454.24,207.03 L454.62,208.92 L455.00,210.95 L455.38,213.11 L455.76,215.36 L456.13,217.67 L456.51,220.03 L456.89,222.39 L457.27,224.74 L457.64,227.06 L458.02,229.32 L458.40,231.50 L458.78,233.60 L459.16,235.59 L459.53,237.48 L459.91,239.24 L460.29,240.89 L460.67,242.41 L461.04,243.80 L461.42,245.07 L461.80,246.23 L462.18,247.26 L462.56,248.19 L462.93,249.02 L463.31,249.75 L463.69,250.39 L464.07,250.95 L464.44,251.44 L464.82,251.86 L465.20,252.22 L465.58,252.53 L465.96,252.80 L466.33,253.02 L466.71,253.21 L467.09,253.42 L467.47,253.62 L467.84,253.79 L468.22,253.92 L468.60,254.03 L468.98,254.12 L469.36,254.20 L469.73,254.26 L470.11,254.32 L470.49,254.36 L470.87,254.40 L471.24,254.44 L471.62,254.47 L472.00,254.50 L472.00,254.50 L438.00,254.50 Z" fill="#e98572" fill-opacity="0.85" stroke="none"/>
<path d="M413.75,253.57 L414.95,253.99 L416.16,253.83 L417.36,254.10 L418.56,253.55 L419.76,253.67 L420.97,253.49 L422.17,253.57 L423.37,253.67 L424.58,253.61 L425.78,253.75 L426.98,254.12 L428.18,253.73 L429.39,254.20 L430.59,254.09 L431.79,253.58 L433.00,254.16 L434.20,254.13 L435.40,254.12 L436.60,253.50 L437.81,254.06 L439.01,254.18 L440.21,253.53 L441.42,254.10 L442.62,253.52 L443.82,253.66 L445.02,253.53 L446.23,253.44 L447.43,253.74 L448.63,253.56 L449.83,254.17 L451.04,253.59 L452.24,253.79 L453.44,253.63 L454.65,254.11 L455.85,253.60 L457.05,253.45 L458.25,254.15 L459.46,253.94 L460.66,253.75 L461.86,253.54 L463.07,254.01 L464.27,254.06 L465.47,254.00 L466.67,253.71 L467.88,253.60 L469.08,253.89 L470.28,253.91 L471.49,253.88 L472.69,253.92 L473.89,253.87 L475.09,254.13 L476.30,253.80 L477.50,253.42" fill="none" stroke="#b0102a" stroke-width="1.1"/>
<path d="M438.00,254.50 L438.38,254.47 L438.76,254.43 L439.13,254.39 L439.51,254.33 L439.89,254.25 L440.27,254.15 L440.64,254.01 L441.02,253.83 L441.40,253.58 L441.78,253.23 L442.16,252.77 L442.53,252.15 L442.91,251.33 L443.29,250.41 L443.67,249.42 L444.04,248.24 L444.42,246.83 L444.80,245.18 L445.18,243.26 L445.56,241.07 L445.93,238.60 L446.31,235.87 L446.69,232.89 L447.07,229.70 L447.44,226.33 L447.82,222.86 L448.20,219.35 L448.58,215.88 L448.96,212.54 L449.33,209.42 L449.71,206.62 L450.09,204.23 L450.47,202.31 L450.84,200.94 L451.22,200.17 L451.60,200.01 L451.98,200.23 L452.36,200.73 L452.73,201.50 L453.11,202.54 L453.49,203.82 L453.87,205.32 L454.24,207.03 L454.62,208.92 L455.00,210.95 L455.38,213.11 L455.76,215.36 L456.13,217.67 L456.51,220.03 L456.89,222.39 L457.27,224.74 L457.64,227.06 L458.02,229.32 L458.40,231.50 L458.78,233.60 L459.16,235.59 L459.53,237.48 L459.91,239.24 L460.29,240.89 L460.67,242.41 L461.04,243.80 L461.42,245.07 L461.80,246.23 L462.18,247.26 L462.56,248.19 L462.93,249.02 L463.31,249.75 L463.69,250.39 L464.07,250.95 L464.44,251.44 L464.82,251.86 L465.20,252.22 L465.58,252.53 L465.96,252.80 L466.33,253.02 L466.71,253.21 L467.09,253.42 L467.47,253.62 L467.84,253.79 L468.22,253.92 L468.60,254.03 L468.98,254.12 L469.36,254.20 L469.73,254.26 L470.11,254.32 L470.49,254.36 L470.87,254.40 L471.24,254.44 L471.62,254.47 L472.00,254.50" fill="none" stroke="#b0102a" stroke-width="1.0"/>
<rect x="480.80" y="216.30" width="5.90" height="5.90" fill="#dadade"/>
<text transform="translate(490.00,221.20)" font-size="5.6" text-anchor="start" fill="#1a1a1a" font-weight="normal" stroke="#1a1a1a" stroke-width="0.12" >Isotype</text>
<rect x="480.80" y="225.60" width="5.90" height="5.90" fill="#c4122f"/>
<text transform="translate(490.00,230.50)" font-size="5.6" text-anchor="start" fill="#1a1a1a" font-weight="normal" stroke="#1a1a1a" stroke-width="0.12" >CCR1</text>
<text transform="translate(11.20,276.80)" font-size="11" text-anchor="start" fill="#000" font-weight="bold" stroke="#000" stroke-width="0.2" >E</text>
<text transform="translate(7.70,343.00) rotate(-90)" font-size="8.3" textLength="52" lengthAdjust="spacingAndGlyphs" fill="#1a1a1a" stroke="#1a1a1a" stroke-width="0.3">Relative percentage</text>
<text transform="translate(18.40,339.80) rotate(-90)" font-size="8.3" textLength="46" lengthAdjust="spacingAndGlyphs" fill="#1a1a1a" stroke="#1a1a1a" stroke-width="0.3">of peritoneal cells</text>
<line x1="38.50" y1="283.75" x2="38.50" y2="351.60" stroke="#1a1a1a" stroke-width="1.2" stroke-linecap="butt"/>
<line x1="35.40" y1="351.00" x2="38.50" y2="351.00" stroke="#1a1a1a" stroke-width="1.0" stroke-linecap="butt"/>
<text transform="translate(32.20,353.20)" font-size="6.1" text-anchor="end" fill="#1a1a1a" font-weight="normal" stroke="#1a1a1a" stroke-width="0.12" >0</text>
<line x1="35.40" y1="329.25" x2="38.50" y2="329.25" stroke="#1a1a1a" stroke-width="1.0" stroke-linecap="butt"/>
<text transform="translate(32.20,331.45)" font-size="6.1" text-anchor="end" fill="#1a1a1a" font-weight="normal" stroke="#1a1a1a" stroke-width="0.12" >0.5</text>
<line x1="35.40" y1="307.50" x2="38.50" y2="307.50" stroke="#1a1a1a" stroke-width="1.0" stroke-linecap="butt"/>
<text transform="translate(32.20,309.70)" font-size="6.1" text-anchor="end" fill="#1a1a1a" font-weight="normal" stroke="#1a1a1a" stroke-width="0.12" >1</text>
<line x1="35.40" y1="285.75" x2="38.50" y2="285.75" stroke="#1a1a1a" stroke-width="1.0" stroke-linecap="butt"/>
<text transform="translate(32.20,287.95)" font-size="6.1" text-anchor="end" fill="#1a1a1a" font-weight="normal" stroke="#1a1a1a" stroke-width="0.12" >1.5</text>
<line x1="35.40" y1="351.00" x2="93.75" y2="351.00" stroke="#1a1a1a" stroke-width="1.2" stroke-linecap="butt"/>
<rect x="41.75" y="307.50" width="21.25" height="43.50" fill="#44546a"/>
<line x1="52.40" y1="307.50" x2="52.40" y2="302.00" stroke="#333" stroke-width="0.9" stroke-linecap="butt"/>
<line x1="50.15" y1="302.00" x2="54.65" y2="302.00" stroke="#333" stroke-width="0.9" stroke-linecap="butt"/>
<rect x="68.75" y="331.75" width="21.25" height="19.25" fill="#c8701a"/>
<line x1="79.40" y1="331.75" x2="79.40" y2="323.25" stroke="#333" stroke-width="0.9" stroke-linecap="butt"/>
<line x1="77.15" y1="323.25" x2="81.65" y2="323.25" stroke="#333" stroke-width="0.9" stroke-linecap="butt"/>
<text transform="translate(79.40,322.40)" font-size="5.3" text-anchor="middle" fill="#1a1a1a" font-weight="normal" stroke="#1a1a1a" stroke-width="0.12" >*</text>
<line x1="52.40" y1="351.00" x2="52.40" y2="353.50" stroke="#1a1a1a" stroke-width="0.8" stroke-linecap="butt"/>
<line x1="79.40" y1="351.00" x2="79.40" y2="353.50" stroke="#1a1a1a" stroke-width="0.8" stroke-linecap="butt"/>
<text transform="translate(52.40,363.30)" font-size="6.1" text-anchor="middle" fill="#1a1a1a" font-weight="normal" stroke="#1a1a1a" stroke-width="0.12" >WT</text>
<text transform="translate(79.40,363.30)" font-size="6.1" text-anchor="middle" fill="#1a1a1a" font-weight="normal" stroke="#1a1a1a" stroke-width="0.12" >CCR1-/-</text>
<text transform="translate(191.70,276.80)" font-size="11" text-anchor="start" fill="#000" font-weight="bold" stroke="#000" stroke-width="0.2" >F</text>
<text transform="translate(201.60,355.00) rotate(-90)" font-size="8.3" textLength="68" lengthAdjust="spacingAndGlyphs" fill="#1a1a1a" stroke="#1a1a1a" stroke-width="0.3">Relative BMDM migration</text>
<line x1="219.90" y1="287.50" x2="219.90" y2="356.60" stroke="#1a1a1a" stroke-width="1.2" stroke-linecap="butt"/>
<line x1="216.80" y1="356.00" x2="219.90" y2="356.00" stroke="#1a1a1a" stroke-width="1.0" stroke-linecap="butt"/>
<text transform="translate(213.60,358.20)" font-size="6.1" text-anchor="end" fill="#1a1a1a" font-weight="normal" stroke="#1a1a1a" stroke-width="0.12" >0</text>
<line x1="216.80" y1="333.85" x2="219.90" y2="333.85" stroke="#1a1a1a" stroke-width="1.0" stroke-linecap="butt"/>
<text transform="translate(213.60,336.05)" font-size="6.1" text-anchor="end" fill="#1a1a1a" font-weight="normal" stroke="#1a1a1a" stroke-width="0.12" >1</text>
<line x1="216.80" y1="311.70" x2="219.90" y2="311.70" stroke="#1a1a1a" stroke-width="1.0" stroke-linecap="butt"/>
<text transform="translate(213.60,313.90)" font-size="6.1" text-anchor="end" fill="#1a1a1a" font-weight="normal" stroke="#1a1a1a" stroke-width="0.12" >2</text>
<line x1="216.80" y1="289.55" x2="219.90" y2="289.55" stroke="#1a1a1a" stroke-width="1.0" stroke-linecap="butt"/>
<text transform="translate(213.60,291.75)" font-size="6.1" text-anchor="end" fill="#1a1a1a" font-weight="normal" stroke="#1a1a1a" stroke-width="0.12" >3</text>
<line x1="216.80" y1="356.00" x2="296.25" y2="356.00" stroke="#1a1a1a" stroke-width="1.2" stroke-linecap="butt"/>
<rect x="229.25" y="333.75" width="8.25" height="22.25" fill="#44546a"/>
<line x1="233.38" y1="333.75" x2="233.38" y2="330.50" stroke="#333" stroke-width="0.9" stroke-linecap="butt"/>
<line x1="231.57" y1="330.50" x2="235.18" y2="330.50" stroke="#333" stroke-width="0.9" stroke-linecap="butt"/>
<rect x="240.00" y="333.75" width="8.50" height="22.25" fill="#c8701a"/>
<line x1="244.25" y1="333.75" x2="244.25" y2="330.00" stroke="#333" stroke-width="0.9" stroke-linecap="butt"/>
<line x1="242.45" y1="330.00" x2="246.05" y2="330.00" stroke="#333" stroke-width="0.9" stroke-linecap="butt"/>
<rect x="269.25" y="308.00" width="7.75" height="48.00" fill="#44546a"/>
<line x1="273.12" y1="308.00" x2="273.12" y2="303.25" stroke="#333" stroke-width="0.9" stroke-linecap="butt"/>
<line x1="271.32" y1="303.25" x2="274.93" y2="303.25" stroke="#333" stroke-width="0.9" stroke-linecap="butt"/>
<rect x="279.50" y="328.75" width="8.25" height="27.25" fill="#c8701a"/>
<line x1="283.62" y1="328.75" x2="283.62" y2="324.25" stroke="#333" stroke-width="0.9" stroke-linecap="butt"/>
<line x1="281.82" y1="324.25" x2="285.43" y2="324.25" stroke="#333" stroke-width="0.9" stroke-linecap="butt"/>
<text transform="translate(273.10,302.40)" font-size="5.3" text-anchor="middle" fill="#1a1a1a" font-weight="normal" stroke="#1a1a1a" stroke-width="0.12" >*</text>
<line x1="239.00" y1="356.00" x2="239.00" y2="358.50" stroke="#1a1a1a" stroke-width="0.8" stroke-linecap="butt"/>
<line x1="278.00" y1="356.00" x2="278.00" y2="358.50" stroke="#1a1a1a" stroke-width="0.8" stroke-linecap="butt"/>
<rect x="230.75" y="286.75" width="5.50" height="5.50" fill="#44546a"/>
<text transform="translate(239.30,291.60)" font-size="5.8" text-anchor="start" fill="#1a1a1a" font-weight="normal" stroke="#1a1a1a" stroke-width="0.12" >WT</text>
<rect x="255.30" y="286.75" width="5.50" height="5.50" fill="#c8701a"/>
<text transform="translate(264.30,291.60)" font-size="5.8" text-anchor="start" fill="#1a1a1a" font-weight="normal" stroke="#1a1a1a" stroke-width="0.12" >CCR1-/-</text>
<text transform="translate(239.30,368.30)" font-size="6.1" text-anchor="middle" fill="#1a1a1a" font-weight="normal" stroke="#1a1a1a" stroke-width="0.12" >Medium</text>
<text transform="translate(277.50,368.30)" font-size="6.1" text-anchor="middle" fill="#1a1a1a" font-weight="normal" stroke="#1a1a1a" stroke-width="0.12" >FC-</text>
<text transform="translate(277.50,375.80)" font-size="6.1" text-anchor="middle" fill="#1a1a1a" font-weight="normal" stroke="#1a1a1a" stroke-width="0.12" >muMCL1-CM</text>
<text transform="translate(386.20,276.80)" font-size="11" text-anchor="start" fill="#000" font-weight="bold" stroke="#000" stroke-width="0.2" >G</text>
<text transform="translate(398.60,355.00) rotate(-90)" font-size="8.3" textLength="68" lengthAdjust="spacingAndGlyphs" fill="#1a1a1a" stroke="#1a1a1a" stroke-width="0.3">Relative BMDM migration</text>
<line x1="414.20" y1="287.50" x2="414.20" y2="356.60" stroke="#1a1a1a" stroke-width="1.2" stroke-linecap="butt"/>
<line x1="411.10" y1="356.00" x2="414.20" y2="356.00" stroke="#1a1a1a" stroke-width="1.0" stroke-linecap="butt"/>
<text transform="translate(407.90,358.20)" font-size="6.1" text-anchor="end" fill="#1a1a1a" font-weight="normal" stroke="#1a1a1a" stroke-width="0.12" >0</text>
<line x1="411.10" y1="333.85" x2="414.20" y2="333.85" stroke="#1a1a1a" stroke-width="1.0" stroke-linecap="butt"/>
<text transform="translate(407.90,336.05)" font-size="6.1" text-anchor="end" fill="#1a1a1a" font-weight="normal" stroke="#1a1a1a" stroke-width="0.12" >1</text>
<line x1="411.10" y1="311.70" x2="414.20" y2="311.70" stroke="#1a1a1a" stroke-width="1.0" stroke-linecap="butt"/>
<text transform="translate(407.90,313.90)" font-size="6.1" text-anchor="end" fill="#1a1a1a" font-weight="normal" stroke="#1a1a1a" stroke-width="0.12" >2</text>
<line x1="411.10" y1="289.55" x2="414.20" y2="289.55" stroke="#1a1a1a" stroke-width="1.0" stroke-linecap="butt"/>
<text transform="translate(407.90,291.75)" font-size="6.1" text-anchor="end" fill="#1a1a1a" font-weight="normal" stroke="#1a1a1a" stroke-width="0.12" >3</text>
<line x1="411.10" y1="356.00" x2="494.25" y2="356.00" stroke="#1a1a1a" stroke-width="1.2" stroke-linecap="butt"/>
<rect x="415.75" y="334.25" width="12.25" height="21.75" fill="#44546a"/>
<line x1="421.88" y1="334.25" x2="421.88" y2="331.75" stroke="#333" stroke-width="0.9" stroke-linecap="butt"/>
<line x1="419.88" y1="331.75" x2="423.88" y2="331.75" stroke="#333" stroke-width="0.9" stroke-linecap="butt"/>
<line x1="421.88" y1="356.00" x2="421.88" y2="358.70" stroke="#1a1a1a" stroke-width="0.8" stroke-linecap="butt"/>
<text transform="translate(424.48,366.30) rotate(-45)" font-size="6.5" text-anchor="end" fill="#1a1a1a" font-weight="normal" stroke="#1a1a1a" stroke-width="0.12" >Con</text>
<rect x="431.75" y="309.25" width="12.00" height="46.75" fill="#44546a"/>
<line x1="437.75" y1="309.25" x2="437.75" y2="304.25" stroke="#333" stroke-width="0.9" stroke-linecap="butt"/>
<line x1="435.75" y1="304.25" x2="439.75" y2="304.25" stroke="#333" stroke-width="0.9" stroke-linecap="butt"/>
<line x1="437.75" y1="356.00" x2="437.75" y2="358.70" stroke="#1a1a1a" stroke-width="0.8" stroke-linecap="butt"/>
<text transform="translate(440.35,366.30) rotate(-45)" font-size="6.5" text-anchor="end" fill="#1a1a1a" font-weight="normal" stroke="#1a1a1a" stroke-width="0.12" >rCCL3</text>
<rect x="463.75" y="334.25" width="12.50" height="21.75" fill="#c8701a"/>
<line x1="470.00" y1="334.25" x2="470.00" y2="331.75" stroke="#333" stroke-width="0.9" stroke-linecap="butt"/>
<line x1="468.00" y1="331.75" x2="472.00" y2="331.75" stroke="#333" stroke-width="0.9" stroke-linecap="butt"/>
<line x1="470.00" y1="356.00" x2="470.00" y2="358.70" stroke="#1a1a1a" stroke-width="0.8" stroke-linecap="butt"/>
<text transform="translate(472.60,366.30) rotate(-45)" font-size="6.5" text-anchor="end" fill="#1a1a1a" font-weight="normal" stroke="#1a1a1a" stroke-width="0.12" >Con</text>
<rect x="480.00" y="324.25" width="12.00" height="31.75" fill="#c8701a"/>
<line x1="486.00" y1="324.25" x2="486.00" y2="321.75" stroke="#333" stroke-width="0.9" stroke-linecap="butt"/>
<line x1="484.00" y1="321.75" x2="488.00" y2="321.75" stroke="#333" stroke-width="0.9" stroke-linecap="butt"/>
<line x1="486.00" y1="356.00" x2="486.00" y2="358.70" stroke="#1a1a1a" stroke-width="0.8" stroke-linecap="butt"/>
<text transform="translate(488.60,366.30) rotate(-45)" font-size="6.5" text-anchor="end" fill="#1a1a1a" font-weight="normal" stroke="#1a1a1a" stroke-width="0.12" >rCCL3</text>
<text transform="translate(437.75,303.60)" font-size="5.3" text-anchor="middle" fill="#1a1a1a" font-weight="normal" stroke="#1a1a1a" stroke-width="0.12" >*</text>
<rect x="425.75" y="286.75" width="5.80" height="5.50" fill="#44546a"/>
<text transform="translate(435.00,291.60)" font-size="5.8" text-anchor="start" fill="#1a1a1a" font-weight="normal" stroke="#1a1a1a" stroke-width="0.12" >WT</text>
<rect x="450.20" y="286.75" width="5.80" height="5.50" fill="#c8701a"/>
<text transform="translate(459.30,291.60)" font-size="5.8" text-anchor="start" fill="#1a1a1a" font-weight="normal" stroke="#1a1a1a" stroke-width="0.12" >CCR1-/-</text>
<text transform="translate(10.50,399.60)" font-size="11" text-anchor="start" fill="#000" font-weight="bold" stroke="#000" stroke-width="0.2" >H</text>
<text transform="translate(69.00,411.80)" font-size="8.4" text-anchor="middle" fill="#46b04a" font-weight="normal" stroke="#46b04a" stroke-width="0.12" >Ly6C</text>
<text transform="translate(140.60,411.80)" font-size="8.4" text-anchor="middle" fill="#c4122f" font-weight="normal" stroke="#c4122f" stroke-width="0.12" >CCR1</text>
<text transform="translate(213.10,411.80)" font-size="8.4" text-anchor="middle" fill="#3a5ea8" font-weight="normal" stroke="#3a5ea8" stroke-width="0.12" >DAPI</text>
<text transform="translate(281.20,411.80)" font-size="8.4" text-anchor="middle" fill="#1a1a1a" font-weight="normal" stroke="#1a1a1a" stroke-width="0.12" >Merge</text>
<text transform="translate(175.00,493.70)" font-size="8.3" text-anchor="middle" fill="#1a1a1a" font-weight="normal" stroke="#1a1a1a" stroke-width="0.12" >Syngeneic mouse tumor bearing FC-muMCL1 cell line</text>
<defs><filter id="bl" x="-20%" y="-20%" width="140%" height="140%"><feGaussianBlur stdDeviation="0.7"/></filter><filter id="bl2" x="-5%" y="-5%" width="110%" height="110%"><feGaussianBlur stdDeviation="0.35"/></filter></defs>
<rect x="38.10" y="416.40" width="62.20" height="66.40" fill="#0a0a0a"/>
<g transform="translate(38.1,416.4)" filter="url(#bl)">
<g fill="none" stroke-linecap="round">
<path d="M22.2,33.0 L24.2,35.6 L25.6,36.9 L28.6,36.4" stroke="#1f8a36" stroke-width="2.2" opacity="0.8"/>
<path d="M22.6,33.4 L24.4,35.8 L25.8,36.9 L28.0,36.5" stroke="#3ad455" stroke-width="1.1"/>
<path d="M42.3,38.9 A2.1,2.1 0 1 0 42.6,41.6" stroke="#1f8a36" stroke-width="2.2" opacity="0.8"/>
<path d="M42.3,38.9 A2.1,2.1 0 1 0 42.6,41.6" stroke="#3ad455" stroke-width="1.1"/>
</g>
<ellipse cx="25.6" cy="36.9" rx="1.0" ry="0.8" fill="#5cf07a" opacity="0.9"/>
<ellipse cx="41.6" cy="40.6" rx="1.0" ry="0.9" fill="#3ad455" opacity="0.9"/>
<ellipse cx="27.7" cy="29" rx="0.8" ry="0.8" fill="#2aa83c" opacity="0.85"/>
<ellipse cx="30.3" cy="32" rx="1.2" ry="0.7" fill="#2aa83c" opacity="0.9"/>
<ellipse cx="41.1" cy="29.8" rx="0.7" ry="0.7" fill="#1f7a2c" opacity="0.7"/>
<ellipse cx="57.6" cy="37.2" rx="1.1" ry="1.1" fill="#7fd896" opacity="0.95"/>
<ellipse cx="52.4" cy="41.5" rx="0.9" ry="0.9" fill="#3cb858" opacity="0.85"/>
<ellipse cx="51.5" cy="38.9" rx="0.6" ry="0.6" fill="#1f7a2c" opacity="0.7"/>
<ellipse cx="25.1" cy="24.6" rx="0.5" ry="0.5" fill="#1f7a2c" opacity="0.6"/>
<ellipse cx="33.5" cy="33.2" rx="0.6" ry="0.5" fill="#2aa83c" opacity="0.6"/>
<ellipse cx="36.5" cy="37.6" rx="0.6" ry="0.6" fill="#1f7a2c" opacity="0.6"/>
</g>
<rect x="110.20" y="416.40" width="61.80" height="66.40" fill="#0a0a0a"/>
<g transform="translate(110.2,416.4)" filter="url(#bl)">
<ellipse cx="25.2" cy="35.7" rx="3.0" ry="2.8" fill="#7a0c1c" opacity="0.8" transform="rotate(0 25.2 35.7)"/>
<ellipse cx="25.2" cy="35.7" rx="2.1" ry="2.0" fill="#e0182e" opacity="1" transform="rotate(0 25.2 35.7)"/>
<ellipse cx="39.6" cy="40.2" rx="4.0" ry="2.7" fill="#7a0c1c" opacity="0.8" transform="rotate(35 39.6 40.2)"/>
<ellipse cx="39.2" cy="39.8" rx="2.6" ry="1.7" fill="#e0182e" opacity="1" transform="rotate(35 39.2 39.8)"/>
<ellipse cx="41.3" cy="41.6" rx="1.3" ry="1.1" fill="#e8304a" opacity="1" transform="rotate(0 41.3 41.6)"/>
<ellipse cx="32.4" cy="33.5" rx="0.8" ry="1.0" fill="#c01428" opacity="0.9" transform="rotate(0 32.4 33.5)"/>
<ellipse cx="18.9" cy="36.9" rx="0.8" ry="0.8" fill="#901020" opacity="0.8" transform="rotate(0 18.9 36.9)"/>
<ellipse cx="51.1" cy="36.9" rx="0.9" ry="0.9" fill="#901020" opacity="0.8" transform="rotate(0 51.1 36.9)"/>
<ellipse cx="51.6" cy="41.2" rx="0.9" ry="0.8" fill="#901020" opacity="0.8" transform="rotate(0 51.6 41.2)"/>
<ellipse cx="40.6" cy="32.5" rx="0.7" ry="0.7" fill="#901020" opacity="0.7" transform="rotate(0 40.6 32.5)"/>
<ellipse cx="25.2" cy="25.8" rx="0.6" ry="0.6" fill="#701020" opacity="0.7" transform="rotate(0 25.2 25.8)"/>
<ellipse cx="27.1" cy="28.2" rx="0.6" ry="0.6" fill="#801020" opacity="0.7" transform="rotate(0 27.1 28.2)"/>
<ellipse cx="3.4" cy="56.3" rx="0.9" ry="0.9" fill="#801020" opacity="0.7" transform="rotate(0 3.4 56.3)"/>
<ellipse cx="46" cy="36" rx="0.5" ry="0.5" fill="#701020" opacity="0.6" transform="rotate(0 46 36)"/>
</g>
<defs><filter id="blob" x="-10%" y="-10%" width="120%" height="120%" color-interpolation-filters="sRGB">
<feTurbulence type="fractalNoise" baseFrequency="0.16" numOctaves="2" seed="7" result="n"/>
<feGaussianBlur in="SourceGraphic" stdDeviation="0.9" result="b"/>
<feDisplacementMap in="b" in2="n" scale="4.5" xChannelSelector="R" yChannelSelector="G" result="d"/>
<feComponentTransfer in="d"><feFuncA type="linear" slope="9" intercept="-4"/></feComponentTransfer>
<feGaussianBlur stdDeviation="0.35"/>
</filter></defs>
<clipPath id="cp181"><rect x="0" y="0" width="62.2" height="66.4"/></clipPath>
<g transform="translate(181.7,416.4)" clip-path="url(#cp181)">
<rect x="0.00" y="0.00" width="62.20" height="66.40" fill="#3b2da2"/>
<g filter="url(#blob)" fill="#241a78" opacity="0.5">
<ellipse cx="17.5" cy="28.9" rx="4.9" ry="3.1"/>
<ellipse cx="39.6" cy="6.8" rx="3.7" ry="2.5"/>
<ellipse cx="6.4" cy="24.0" rx="3.1" ry="3.7"/>
<ellipse cx="35.9" cy="48.6" rx="4.9" ry="3.1"/>
<ellipse cx="50.7" cy="24.0" rx="3.1" ry="2.5"/>
<ellipse cx="23.6" cy="6.8" rx="3.1" ry="1.8"/>
<ellipse cx="56.9" cy="14.2" rx="2.5" ry="3.7"/>
<ellipse cx="39.6" cy="40.0" rx="2.5" ry="1.8"/>
</g>
<g filter="url(#blob)" fill="#040404" stroke="#040404" stroke-width="1.1" stroke-linejoin="round" transform="translate(0.5,0.5)">
<polygon points="7.4,-0.6 15.0,-0.6 15.6,5.5 20.6,8.6 25.5,11.1 28.6,15.4 30.4,20.9 34.7,24.6 35.9,28.3 32.9,30.8 29.2,29.5 26.7,25.8 23.6,22.8 21.2,19.1 17.5,16.0 13.8,14.8 11.1,12.3 8.6,9.2 7.1,5.5 6.4,2.5"/>
<polygon points="-1.0,4.6 2.7,5.5 4.6,9.0 3.0,11.4 0.5,9.8 -1.0,8.6"/>
<polygon points="42.1,1.8 50.7,1.2 53.2,6.8 51.3,12.9 52.6,17.8 49.5,20.3 44.6,19.1 40.2,17.8 38.4,13.5 41.5,10.5 44.6,8.0 42.7,4.9"/>
<polygon points="22.4,-0.6 27.9,-0.6 26.7,2.5 23.6,2.1"/>
<polygon points="-1.0,31.1 3.0,32.9 5.4,37.3 4.2,40.2 1.7,38.8 -1.0,36.3"/>
<polygon points="9.1,31.6 11.6,32.9 14.6,36.9 17.5,39.4 21.8,38.8 27.3,38.8 31.6,41.2 32.2,44.9 27.9,46.8 23.6,45.5 19.3,48.0 15.6,46.2 13.5,42.5 10.8,38.8 8.9,35.1"/>
<polygon points="41.5,28.3 44.6,27.7 47.0,31.4 49.5,35.1 48.2,37.5 45.2,35.7 42.7,32.6"/>
<polygon points="43.9,38.8 48.2,38.2 51.9,40.0 55.6,41.2 58.1,36.3 62.4,35.1 62.4,40.0 56.9,43.7 59.3,48.6 62.4,51.1 62.4,53.5 56.9,49.8 53.8,44.9 49.5,43.1 45.2,43.7 42.7,41.8"/>
<polygon points="52.6,30.8 55.0,31.4 55.0,35.1 52.6,35.1"/>
<polygon points="6.4,47.4 10.7,48.0 15.0,51.1 19.3,53.5 23.6,52.3 27.9,55.4 32.9,54.8 35.9,57.8 39.6,60.3 41.5,63.4 41.5,67.1 11.3,67.1 7.6,62.2 4.6,57.2 4.6,51.1"/>
<polygon points="47.6,56.0 51.9,54.2 56.2,56.6 58.7,60.9 59.3,67.1 48.2,67.1 45.8,62.2 46.4,58.5"/>
<polygon points="8.9,20.3 11.3,20.6 11.6,22.8 9.1,22.8"/>
<polygon points="35.9,34.5 38.2,34.7 37.9,36.7 35.7,36.4"/>
<polygon points="3.9,15.4 6.4,16.0 6.2,17.8 3.7,17.6"/>
</g></g>
<clipPath id="cp250"><rect x="0" y="0" width="62.1" height="66.4"/></clipPath>
<g transform="translate(250.1,416.4)" clip-path="url(#cp250)">
<rect x="0.00" y="0.00" width="62.10" height="66.40" fill="#3b2da2"/>
<g filter="url(#blob)" fill="#241a78" opacity="0.5">
<ellipse cx="17.5" cy="28.9" rx="4.9" ry="3.1"/>
<ellipse cx="39.6" cy="6.8" rx="3.7" ry="2.5"/>
<ellipse cx="6.4" cy="24.0" rx="3.1" ry="3.7"/>
<ellipse cx="35.9" cy="48.6" rx="4.9" ry="3.1"/>
<ellipse cx="50.7" cy="24.0" rx="3.1" ry="2.5"/>
<ellipse cx="23.6" cy="6.8" rx="3.1" ry="1.8"/>
<ellipse cx="56.9" cy="14.2" rx="2.5" ry="3.7"/>
<ellipse cx="39.6" cy="40.0" rx="2.5" ry="1.8"/>
</g>
<g filter="url(#blob)" fill="#040404" stroke="#040404" stroke-width="1.1" stroke-linejoin="round" transform="translate(0.5,0.5)">
<polygon points="7.4,-0.6 15.0,-0.6 15.6,5.5 20.6,8.6 25.5,11.1 28.6,15.4 30.4,20.9 34.7,24.6 35.9,28.3 32.9,30.8 29.2,29.5 26.7,25.8 23.6,22.8 21.2,19.1 17.5,16.0 13.8,14.8 11.1,12.3 8.6,9.2 7.1,5.5 6.4,2.5"/>
<polygon points="-1.0,4.6 2.7,5.5 4.6,9.0 3.0,11.4 0.5,9.8 -1.0,8.6"/>
<polygon points="42.1,1.8 50.7,1.2 53.2,6.8 51.3,12.9 52.6,17.8 49.5,20.3 44.6,19.1 40.2,17.8 38.4,13.5 41.5,10.5 44.6,8.0 42.7,4.9"/>
<polygon points="22.4,-0.6 27.9,-0.6 26.7,2.5 23.6,2.1"/>
<polygon points="-1.0,31.1 3.0,32.9 5.4,37.3 4.2,40.2 1.7,38.8 -1.0,36.3"/>
<polygon points="9.1,31.6 11.6,32.9 14.6,36.9 17.5,39.4 21.8,38.8 27.3,38.8 31.6,41.2 32.2,44.9 27.9,46.8 23.6,45.5 19.3,48.0 15.6,46.2 13.5,42.5 10.8,38.8 8.9,35.1"/>
<polygon points="41.5,28.3 44.6,27.7 47.0,31.4 49.5,35.1 48.2,37.5 45.2,35.7 42.7,32.6"/>
<polygon points="43.9,38.8 48.2,38.2 51.9,40.0 55.6,41.2 58.1,36.3 62.4,35.1 62.4,40.0 56.9,43.7 59.3,48.6 62.4,51.1 62.4,53.5 56.9,49.8 53.8,44.9 49.5,43.1 45.2,43.7 42.7,41.8"/>
<polygon points="52.6,30.8 55.0,31.4 55.0,35.1 52.6,35.1"/>
<polygon points="6.4,47.4 10.7,48.0 15.0,51.1 19.3,53.5 23.6,52.3 27.9,55.4 32.9,54.8 35.9,57.8 39.6,60.3 41.5,63.4 41.5,67.1 11.3,67.1 7.6,62.2 4.6,57.2 4.6,51.1"/>
<polygon points="47.6,56.0 51.9,54.2 56.2,56.6 58.7,60.9 59.3,67.1 48.2,67.1 45.8,62.2 46.4,58.5"/>
<polygon points="8.9,20.3 11.3,20.6 11.6,22.8 9.1,22.8"/>
<polygon points="35.9,34.5 38.2,34.7 37.9,36.7 35.7,36.4"/>
<polygon points="3.9,15.4 6.4,16.0 6.2,17.8 3.7,17.6"/>
</g></g>
<g transform="translate(250.1,416.4)" filter="url(#bl)">
<ellipse cx="25.6" cy="35.4" rx="1.8" ry="1.6" fill="#e8f4ff" opacity="1"/>
<ellipse cx="41" cy="40" rx="1.7" ry="1.3" fill="#e8f4ff" opacity="1"/>
<ellipse cx="53.8" cy="39.4" rx="1.2" ry="0.9" fill="#5a8af0" opacity="0.9"/>
<ellipse cx="32.3" cy="33" rx="0.7" ry="0.7" fill="#c0d8ff" opacity="0.9"/>
<ellipse cx="3.4" cy="56.3" rx="0.5" ry="0.5" fill="#c0d8ff" opacity="0.8"/>
<ellipse cx="37.5" cy="38" rx="0.6" ry="0.6" fill="#9ac0ff" opacity="0.8"/>
<ellipse cx="28" cy="29" rx="0.5" ry="0.5" fill="#9ac0ff" opacity="0.7"/>
</g>
<text transform="translate(386.60,399.60)" font-size="11" text-anchor="start" fill="#000" font-weight="bold" stroke="#000" stroke-width="0.2" >I</text>
<text transform="translate(395.20,465.50) rotate(-90)" font-size="8.3" textLength="36" lengthAdjust="spacingAndGlyphs" fill="#1a1a1a" stroke="#1a1a1a" stroke-width="0.3">Positivity (%)</text>
<line x1="413.40" y1="412.50" x2="413.40" y2="483.10" stroke="#1a1a1a" stroke-width="1.2" stroke-linecap="butt"/>
<line x1="410.30" y1="482.50" x2="413.40" y2="482.50" stroke="#1a1a1a" stroke-width="1.0" stroke-linecap="butt"/>
<text transform="translate(407.10,484.70)" font-size="6.1" text-anchor="end" fill="#1a1a1a" font-weight="normal" stroke="#1a1a1a" stroke-width="0.12" >0</text>
<line x1="410.30" y1="460.26" x2="413.40" y2="460.26" stroke="#1a1a1a" stroke-width="1.0" stroke-linecap="butt"/>
<text transform="translate(407.10,462.46)" font-size="6.1" text-anchor="end" fill="#1a1a1a" font-weight="normal" stroke="#1a1a1a" stroke-width="0.12" >4</text>
<line x1="410.30" y1="438.02" x2="413.40" y2="438.02" stroke="#1a1a1a" stroke-width="1.0" stroke-linecap="butt"/>
<text transform="translate(407.10,440.22)" font-size="6.1" text-anchor="end" fill="#1a1a1a" font-weight="normal" stroke="#1a1a1a" stroke-width="0.12" >8</text>
<line x1="410.30" y1="415.78" x2="413.40" y2="415.78" stroke="#1a1a1a" stroke-width="1.0" stroke-linecap="butt"/>
<text transform="translate(407.10,417.98)" font-size="6.1" text-anchor="end" fill="#1a1a1a" font-weight="normal" stroke="#1a1a1a" stroke-width="0.12" >12</text>
<line x1="410.30" y1="482.50" x2="494.25" y2="482.50" stroke="#1a1a1a" stroke-width="1.2" stroke-linecap="butt"/>
<rect x="418.25" y="434.25" width="17.50" height="48.25" fill="#3fae49"/>
<line x1="427.00" y1="434.25" x2="427.00" y2="427.00" stroke="#333" stroke-width="0.9" stroke-linecap="butt"/>
<line x1="425.20" y1="427.00" x2="428.80" y2="427.00" stroke="#333" stroke-width="0.9" stroke-linecap="butt"/>
<line x1="427.00" y1="482.50" x2="427.00" y2="485.20" stroke="#1a1a1a" stroke-width="0.8" stroke-linecap="butt"/>
<rect x="445.00" y="444.25" width="17.50" height="38.25" fill="#c4122f"/>
<line x1="453.75" y1="444.25" x2="453.75" y2="435.50" stroke="#333" stroke-width="0.9" stroke-linecap="butt"/>
<line x1="451.95" y1="435.50" x2="455.55" y2="435.50" stroke="#333" stroke-width="0.9" stroke-linecap="butt"/>
<line x1="453.75" y1="482.50" x2="453.75" y2="485.20" stroke="#1a1a1a" stroke-width="0.8" stroke-linecap="butt"/>
<rect x="471.75" y="448.00" width="17.50" height="34.50" fill="#f7941d"/>
<line x1="480.50" y1="448.00" x2="480.50" y2="443.25" stroke="#333" stroke-width="0.9" stroke-linecap="butt"/>
<line x1="478.70" y1="443.25" x2="482.30" y2="443.25" stroke="#333" stroke-width="0.9" stroke-linecap="butt"/>
<line x1="480.50" y1="482.50" x2="480.50" y2="485.20" stroke="#1a1a1a" stroke-width="0.8" stroke-linecap="butt"/>
<text transform="translate(427.00,495.10)" font-size="6.1" text-anchor="middle" fill="#1a1a1a" font-weight="normal" stroke="#1a1a1a" stroke-width="0.12" >Ly6C</text>
<text transform="translate(453.75,495.10)" font-size="6.1" text-anchor="middle" fill="#1a1a1a" font-weight="normal" stroke="#1a1a1a" stroke-width="0.12" >CCR1</text>
<text transform="translate(480.50,495.10)" font-size="6.1" text-anchor="middle" fill="#1a1a1a" font-weight="normal" stroke="#1a1a1a" stroke-width="0.12" >Ly6C/</text>
<text transform="translate(480.50,502.60)" font-size="6.1" text-anchor="middle" fill="#1a1a1a" font-weight="normal" stroke="#1a1a1a" stroke-width="0.12" >CCR1</text>
<text transform="translate(11.00,523.90)" font-size="11" text-anchor="start" fill="#000" font-weight="bold" stroke="#000" stroke-width="0.2" >J</text>
<text transform="translate(19.20,601.30) rotate(-90)" font-size="8.3" textLength="65" lengthAdjust="spacingAndGlyphs" fill="#1a1a1a" stroke="#1a1a1a" stroke-width="0.3">Relative THP1 migration</text>
<line x1="38.50" y1="532.00" x2="38.50" y2="607.35" stroke="#1a1a1a" stroke-width="1.2" stroke-linecap="butt"/>
<line x1="35.40" y1="606.75" x2="38.50" y2="606.75" stroke="#1a1a1a" stroke-width="1.0" stroke-linecap="butt"/>
<text transform="translate(32.20,608.95)" font-size="6.1" text-anchor="end" fill="#1a1a1a" font-weight="normal" stroke="#1a1a1a" stroke-width="0.12" >0</text>
<line x1="35.40" y1="592.31" x2="38.50" y2="592.31" stroke="#1a1a1a" stroke-width="1.0" stroke-linecap="butt"/>
<text transform="translate(32.20,594.51)" font-size="6.1" text-anchor="end" fill="#1a1a1a" font-weight="normal" stroke="#1a1a1a" stroke-width="0.12" >2</text>
<line x1="35.40" y1="577.87" x2="38.50" y2="577.87" stroke="#1a1a1a" stroke-width="1.0" stroke-linecap="butt"/>
<text transform="translate(32.20,580.07)" font-size="6.1" text-anchor="end" fill="#1a1a1a" font-weight="normal" stroke="#1a1a1a" stroke-width="0.12" >4</text>
<line x1="35.40" y1="563.43" x2="38.50" y2="563.43" stroke="#1a1a1a" stroke-width="1.0" stroke-linecap="butt"/>
<text transform="translate(32.20,565.63)" font-size="6.1" text-anchor="end" fill="#1a1a1a" font-weight="normal" stroke="#1a1a1a" stroke-width="0.12" >6</text>
<line x1="35.40" y1="548.99" x2="38.50" y2="548.99" stroke="#1a1a1a" stroke-width="1.0" stroke-linecap="butt"/>
<text transform="translate(32.20,551.19)" font-size="6.1" text-anchor="end" fill="#1a1a1a" font-weight="normal" stroke="#1a1a1a" stroke-width="0.12" >8</text>
<line x1="35.40" y1="534.55" x2="38.50" y2="534.55" stroke="#1a1a1a" stroke-width="1.0" stroke-linecap="butt"/>
<text transform="translate(32.20,536.75)" font-size="6.1" text-anchor="end" fill="#1a1a1a" font-weight="normal" stroke="#1a1a1a" stroke-width="0.12" >10</text>
<line x1="35.40" y1="606.75" x2="139.25" y2="606.75" stroke="#1a1a1a" stroke-width="1.2" stroke-linecap="butt"/>
<rect x="41.25" y="600.00" width="7.65" height="6.75" fill="#7b3f10"/>
<line x1="45.08" y1="600.00" x2="45.08" y2="596.25" stroke="#333" stroke-width="0.9" stroke-linecap="butt"/>
<line x1="43.38" y1="596.25" x2="46.78" y2="596.25" stroke="#333" stroke-width="0.9" stroke-linecap="butt"/>
<line x1="45.08" y1="606.75" x2="45.08" y2="609.45" stroke="#1a1a1a" stroke-width="0.8" stroke-linecap="butt"/>
<text transform="translate(48.28,617.25) rotate(-45)" font-size="6.6" text-anchor="end" fill="#1a1a1a" font-weight="normal" stroke="#1a1a1a" stroke-width="0.12" >Medium</text>
<rect x="53.00" y="561.50" width="8.25" height="45.25" fill="#c4122f"/>
<line x1="57.12" y1="561.50" x2="57.12" y2="551.75" stroke="#333" stroke-width="0.9" stroke-linecap="butt"/>
<line x1="55.42" y1="551.75" x2="58.83" y2="551.75" stroke="#333" stroke-width="0.9" stroke-linecap="butt"/>
<line x1="57.12" y1="606.75" x2="57.12" y2="609.45" stroke="#1a1a1a" stroke-width="0.8" stroke-linecap="butt"/>
<text transform="translate(60.33,617.25) rotate(-45)" font-size="6.6" text-anchor="end" fill="#1a1a1a" font-weight="normal" stroke="#1a1a1a" stroke-width="0.12" >Mino CM</text>
<rect x="65.75" y="600.75" width="8.50" height="6.00" fill="#9a8cc8"/>
<line x1="70.00" y1="600.75" x2="70.00" y2="597.50" stroke="#333" stroke-width="0.9" stroke-linecap="butt"/>
<line x1="68.30" y1="597.50" x2="71.70" y2="597.50" stroke="#333" stroke-width="0.9" stroke-linecap="butt"/>
<line x1="70.00" y1="606.75" x2="70.00" y2="609.45" stroke="#1a1a1a" stroke-width="0.8" stroke-linecap="butt"/>
<text transform="translate(73.20,617.25) rotate(-45)" font-size="6.6" text-anchor="end" fill="#1a1a1a" font-weight="normal" stroke="#1a1a1a" stroke-width="0.12" >Mino CM+BX 1µM</text>
<rect x="78.25" y="601.25" width="8.50" height="5.50" fill="#e3148e"/>
<line x1="82.50" y1="601.25" x2="82.50" y2="598.25" stroke="#333" stroke-width="0.9" stroke-linecap="butt"/>
<line x1="80.80" y1="598.25" x2="84.20" y2="598.25" stroke="#333" stroke-width="0.9" stroke-linecap="butt"/>
<line x1="82.50" y1="606.75" x2="82.50" y2="609.45" stroke="#1a1a1a" stroke-width="0.8" stroke-linecap="butt"/>
<text transform="translate(85.70,617.25) rotate(-45)" font-size="6.6" text-anchor="end" fill="#1a1a1a" font-weight="normal" stroke="#1a1a1a" stroke-width="0.12" >Mino CM+BX 10µM</text>
<rect x="91.25" y="571.75" width="8.25" height="35.00" fill="#0f6b4e"/>
<line x1="95.38" y1="571.75" x2="95.38" y2="564.50" stroke="#333" stroke-width="0.9" stroke-linecap="butt"/>
<line x1="93.67" y1="564.50" x2="97.08" y2="564.50" stroke="#333" stroke-width="0.9" stroke-linecap="butt"/>
<line x1="95.38" y1="606.75" x2="95.38" y2="609.45" stroke="#1a1a1a" stroke-width="0.8" stroke-linecap="butt"/>
<text transform="translate(98.58,617.25) rotate(-45)" font-size="6.6" text-anchor="end" fill="#1a1a1a" font-weight="normal" stroke="#1a1a1a" stroke-width="0.12" >Mino CM+AZD 1µM</text>
<rect x="103.75" y="573.00" width="8.25" height="33.75" fill="#b5c98e"/>
<line x1="107.88" y1="573.00" x2="107.88" y2="566.25" stroke="#333" stroke-width="0.9" stroke-linecap="butt"/>
<line x1="106.17" y1="566.25" x2="109.58" y2="566.25" stroke="#333" stroke-width="0.9" stroke-linecap="butt"/>
<line x1="107.88" y1="606.75" x2="107.88" y2="609.45" stroke="#1a1a1a" stroke-width="0.8" stroke-linecap="butt"/>
<text transform="translate(111.08,617.25) rotate(-45)" font-size="6.6" text-anchor="end" fill="#1a1a1a" font-weight="normal" stroke="#1a1a1a" stroke-width="0.12" >Mino CM+AZD 10µM</text>
<rect x="116.25" y="563.75" width="8.25" height="43.00" fill="#f7941d"/>
<line x1="120.38" y1="563.75" x2="120.38" y2="553.75" stroke="#333" stroke-width="0.9" stroke-linecap="butt"/>
<line x1="118.67" y1="553.75" x2="122.08" y2="553.75" stroke="#333" stroke-width="0.9" stroke-linecap="butt"/>
<line x1="120.38" y1="606.75" x2="120.38" y2="609.45" stroke="#1a1a1a" stroke-width="0.8" stroke-linecap="butt"/>
<text transform="translate(123.58,617.25) rotate(-45)" font-size="6.6" text-anchor="end" fill="#1a1a1a" font-weight="normal" stroke="#1a1a1a" stroke-width="0.12" >Mino CM+MAC 1µM</text>
<rect x="128.75" y="569.50" width="8.25" height="37.25" fill="#c8701a"/>
<line x1="132.88" y1="569.50" x2="132.88" y2="560.50" stroke="#333" stroke-width="0.9" stroke-linecap="butt"/>
<line x1="131.18" y1="560.50" x2="134.57" y2="560.50" stroke="#333" stroke-width="0.9" stroke-linecap="butt"/>
<line x1="132.88" y1="606.75" x2="132.88" y2="609.45" stroke="#1a1a1a" stroke-width="0.8" stroke-linecap="butt"/>
<text transform="translate(136.07,617.25) rotate(-45)" font-size="6.6" text-anchor="end" fill="#1a1a1a" font-weight="normal" stroke="#1a1a1a" stroke-width="0.12" >Mino CM+MAC 10µM</text>
<line x1="43.75" y1="545.75" x2="58.75" y2="545.75" stroke="#333" stroke-width="1.0" stroke-linecap="butt"/>
<text transform="translate(51.25,545.50)" font-size="5.3" text-anchor="middle" fill="#1a1a1a" font-weight="normal" stroke="#1a1a1a" stroke-width="0.12" >***</text>
<line x1="55.00" y1="535.75" x2="86.25" y2="535.75" stroke="#333" stroke-width="1.0" stroke-linecap="butt"/>
<text transform="translate(70.62,535.20)" font-size="5.3" text-anchor="middle" fill="#1a1a1a" font-weight="normal" stroke="#1a1a1a" stroke-width="0.12" >***</text>
<line x1="31.00" y1="664.50" x2="48.80" y2="664.50" stroke="#1a1a1a" stroke-width="0.7" stroke-linecap="butt"/>
<text transform="translate(30.00,673.20)" font-size="6.8" text-anchor="start" fill="#1a1a1a" font-weight="normal" stroke="#1a1a1a" stroke-width="0.12" >CCR1<tspan font-size="5">i</tspan></text>
<line x1="59.00" y1="664.50" x2="77.10" y2="664.50" stroke="#1a1a1a" stroke-width="0.7" stroke-linecap="butt"/>
<text transform="translate(58.00,673.20)" font-size="6.8" text-anchor="start" fill="#1a1a1a" font-weight="normal" stroke="#1a1a1a" stroke-width="0.12" >CCR4<tspan font-size="5">i</tspan></text>
<line x1="87.30" y1="664.50" x2="105.20" y2="664.50" stroke="#1a1a1a" stroke-width="0.7" stroke-linecap="butt"/>
<text transform="translate(86.30,673.20)" font-size="6.8" text-anchor="start" fill="#1a1a1a" font-weight="normal" stroke="#1a1a1a" stroke-width="0.12" >CCR5<tspan font-size="5">i</tspan></text>
<text transform="translate(200.40,523.90)" font-size="11" text-anchor="start" fill="#000" font-weight="bold" stroke="#000" stroke-width="0.2" >K</text>
<text transform="translate(208.30,601.30) rotate(-90)" font-size="8.3" textLength="65" lengthAdjust="spacingAndGlyphs" fill="#1a1a1a" stroke="#1a1a1a" stroke-width="0.3">Relative THP1 migration</text>
<line x1="227.50" y1="532.00" x2="227.50" y2="607.35" stroke="#1a1a1a" stroke-width="1.2" stroke-linecap="butt"/>
<line x1="224.40" y1="606.75" x2="227.50" y2="606.75" stroke="#1a1a1a" stroke-width="1.0" stroke-linecap="butt"/>
<text transform="translate(221.20,608.95)" font-size="6.1" text-anchor="end" fill="#1a1a1a" font-weight="normal" stroke="#1a1a1a" stroke-width="0.12" >0</text>
<line x1="224.40" y1="592.31" x2="227.50" y2="592.31" stroke="#1a1a1a" stroke-width="1.0" stroke-linecap="butt"/>
<text transform="translate(221.20,594.51)" font-size="6.1" text-anchor="end" fill="#1a1a1a" font-weight="normal" stroke="#1a1a1a" stroke-width="0.12" >2</text>
<line x1="224.40" y1="577.87" x2="227.50" y2="577.87" stroke="#1a1a1a" stroke-width="1.0" stroke-linecap="butt"/>
<text transform="translate(221.20,580.07)" font-size="6.1" text-anchor="end" fill="#1a1a1a" font-weight="normal" stroke="#1a1a1a" stroke-width="0.12" >4</text>
<line x1="224.40" y1="563.43" x2="227.50" y2="563.43" stroke="#1a1a1a" stroke-width="1.0" stroke-linecap="butt"/>
<text transform="translate(221.20,565.63)" font-size="6.1" text-anchor="end" fill="#1a1a1a" font-weight="normal" stroke="#1a1a1a" stroke-width="0.12" >6</text>
<line x1="224.40" y1="548.99" x2="227.50" y2="548.99" stroke="#1a1a1a" stroke-width="1.0" stroke-linecap="butt"/>
<text transform="translate(221.20,551.19)" font-size="6.1" text-anchor="end" fill="#1a1a1a" font-weight="normal" stroke="#1a1a1a" stroke-width="0.12" >8</text>
<line x1="224.40" y1="534.55" x2="227.50" y2="534.55" stroke="#1a1a1a" stroke-width="1.0" stroke-linecap="butt"/>
<text transform="translate(221.20,536.75)" font-size="6.1" text-anchor="end" fill="#1a1a1a" font-weight="normal" stroke="#1a1a1a" stroke-width="0.12" >10</text>
<line x1="224.40" y1="606.75" x2="335.00" y2="606.75" stroke="#1a1a1a" stroke-width="1.2" stroke-linecap="butt"/>
<rect x="229.25" y="593.00" width="8.50" height="13.75" fill="#7b3f10"/>
<line x1="233.50" y1="593.00" x2="233.50" y2="586.25" stroke="#333" stroke-width="0.9" stroke-linecap="butt"/>
<line x1="231.70" y1="586.25" x2="235.30" y2="586.25" stroke="#333" stroke-width="0.9" stroke-linecap="butt"/>
<line x1="233.50" y1="606.75" x2="233.50" y2="609.45" stroke="#1a1a1a" stroke-width="0.8" stroke-linecap="butt"/>
<text transform="translate(236.70,617.25) rotate(-45)" font-size="6.6" text-anchor="end" fill="#1a1a1a" font-weight="normal" stroke="#1a1a1a" stroke-width="0.12" >Medium</text>
<rect x="242.50" y="562.00" width="8.75" height="44.75" fill="#3fae49"/>
<line x1="246.88" y1="562.00" x2="246.88" y2="553.25" stroke="#333" stroke-width="0.9" stroke-linecap="butt"/>
<line x1="245.07" y1="553.25" x2="248.68" y2="553.25" stroke="#333" stroke-width="0.9" stroke-linecap="butt"/>
<line x1="246.88" y1="606.75" x2="246.88" y2="609.45" stroke="#1a1a1a" stroke-width="0.8" stroke-linecap="butt"/>
<text transform="translate(250.07,617.25) rotate(-45)" font-size="6.6" text-anchor="end" fill="#1a1a1a" font-weight="normal" stroke="#1a1a1a" stroke-width="0.12" >Granta CM</text>
<rect x="256.25" y="593.75" width="8.50" height="13.00" fill="#1f4e8c"/>
<line x1="260.50" y1="593.75" x2="260.50" y2="590.00" stroke="#333" stroke-width="0.9" stroke-linecap="butt"/>
<line x1="258.70" y1="590.00" x2="262.30" y2="590.00" stroke="#333" stroke-width="0.9" stroke-linecap="butt"/>
<line x1="260.50" y1="606.75" x2="260.50" y2="609.45" stroke="#1a1a1a" stroke-width="0.8" stroke-linecap="butt"/>
<text transform="translate(263.70,617.25) rotate(-45)" font-size="6.6" text-anchor="end" fill="#1a1a1a" font-weight="normal" stroke="#1a1a1a" stroke-width="0.12" >Granta CM+BX 1µM</text>
<rect x="269.50" y="593.75" width="8.75" height="13.00" fill="#5b2a86"/>
<line x1="273.88" y1="593.75" x2="273.88" y2="589.50" stroke="#333" stroke-width="0.9" stroke-linecap="butt"/>
<line x1="272.07" y1="589.50" x2="275.68" y2="589.50" stroke="#333" stroke-width="0.9" stroke-linecap="butt"/>
<line x1="273.88" y1="606.75" x2="273.88" y2="609.45" stroke="#1a1a1a" stroke-width="0.8" stroke-linecap="butt"/>
<text transform="translate(277.07,617.25) rotate(-45)" font-size="6.6" text-anchor="end" fill="#1a1a1a" font-weight="normal" stroke="#1a1a1a" stroke-width="0.12" >Granta CM+BX 10µM</text>
<rect x="283.25" y="560.00" width="8.75" height="46.75" fill="#fdb913"/>
<line x1="287.62" y1="560.00" x2="287.62" y2="545.75" stroke="#333" stroke-width="0.9" stroke-linecap="butt"/>
<line x1="285.82" y1="545.75" x2="289.43" y2="545.75" stroke="#333" stroke-width="0.9" stroke-linecap="butt"/>
<line x1="287.62" y1="606.75" x2="287.62" y2="609.45" stroke="#1a1a1a" stroke-width="0.8" stroke-linecap="butt"/>
<text transform="translate(290.82,617.25) rotate(-45)" font-size="6.6" text-anchor="end" fill="#1a1a1a" font-weight="normal" stroke="#1a1a1a" stroke-width="0.12" >Granta CM+AZD 1µM</text>
<rect x="296.75" y="565.00" width="9.00" height="41.75" fill="#b5c98e"/>
<line x1="301.25" y1="565.00" x2="301.25" y2="553.25" stroke="#333" stroke-width="0.9" stroke-linecap="butt"/>
<line x1="299.45" y1="553.25" x2="303.05" y2="553.25" stroke="#333" stroke-width="0.9" stroke-linecap="butt"/>
<line x1="301.25" y1="606.75" x2="301.25" y2="609.45" stroke="#1a1a1a" stroke-width="0.8" stroke-linecap="butt"/>
<text transform="translate(304.45,617.25) rotate(-45)" font-size="6.6" text-anchor="end" fill="#1a1a1a" font-weight="normal" stroke="#1a1a1a" stroke-width="0.12" >Granta CM+AZD 10µM</text>
<rect x="310.50" y="558.75" width="8.75" height="48.00" fill="#44546a"/>
<line x1="314.88" y1="558.75" x2="314.88" y2="544.50" stroke="#333" stroke-width="0.9" stroke-linecap="butt"/>
<line x1="313.07" y1="544.50" x2="316.68" y2="544.50" stroke="#333" stroke-width="0.9" stroke-linecap="butt"/>
<line x1="314.88" y1="606.75" x2="314.88" y2="609.45" stroke="#1a1a1a" stroke-width="0.8" stroke-linecap="butt"/>
<text transform="translate(318.07,617.25) rotate(-45)" font-size="6.6" text-anchor="end" fill="#1a1a1a" font-weight="normal" stroke="#1a1a1a" stroke-width="0.12" >Granta CM+MAC 1µM</text>
<rect x="324.25" y="569.50" width="8.75" height="37.25" fill="#c9c9cd"/>
<line x1="328.62" y1="569.50" x2="328.62" y2="561.75" stroke="#333" stroke-width="0.9" stroke-linecap="butt"/>
<line x1="326.82" y1="561.75" x2="330.43" y2="561.75" stroke="#333" stroke-width="0.9" stroke-linecap="butt"/>
<line x1="328.62" y1="606.75" x2="328.62" y2="609.45" stroke="#1a1a1a" stroke-width="0.8" stroke-linecap="butt"/>
<text transform="translate(331.82,617.25) rotate(-45)" font-size="6.6" text-anchor="end" fill="#1a1a1a" font-weight="normal" stroke="#1a1a1a" stroke-width="0.12" >Granta CM+MAC 10µM</text>
<line x1="222.10" y1="669.80" x2="239.80" y2="669.80" stroke="#1a1a1a" stroke-width="0.7" stroke-linecap="butt"/>
<text transform="translate(221.10,679.20)" font-size="6.8" text-anchor="start" fill="#1a1a1a" font-weight="normal" stroke="#1a1a1a" stroke-width="0.12" >CCR1<tspan font-size="5">i</tspan></text>
<line x1="250.60" y1="669.80" x2="268.10" y2="669.80" stroke="#1a1a1a" stroke-width="0.7" stroke-linecap="butt"/>
<text transform="translate(249.60,679.20)" font-size="6.8" text-anchor="start" fill="#1a1a1a" font-weight="normal" stroke="#1a1a1a" stroke-width="0.12" >CCR4<tspan font-size="5">i</tspan></text>
<line x1="278.60" y1="669.80" x2="296.40" y2="669.80" stroke="#1a1a1a" stroke-width="0.7" stroke-linecap="butt"/>
<text transform="translate(277.60,679.20)" font-size="6.8" text-anchor="start" fill="#1a1a1a" font-weight="normal" stroke="#1a1a1a" stroke-width="0.12" >CCR5<tspan font-size="5">i</tspan></text>
<line x1="232.00" y1="545.40" x2="247.50" y2="545.40" stroke="#333" stroke-width="1.0" stroke-linecap="butt"/>
<text transform="translate(239.75,544.80)" font-size="5.3" text-anchor="middle" fill="#1a1a1a" font-weight="normal" stroke="#1a1a1a" stroke-width="0.12" >***</text>
<line x1="246.25" y1="535.50" x2="276.75" y2="535.50" stroke="#333" stroke-width="1.0" stroke-linecap="butt"/>
<text transform="translate(261.50,534.60)" font-size="5.3" text-anchor="middle" fill="#1a1a1a" font-weight="normal" stroke="#1a1a1a" stroke-width="0.12" >***</text>
<text transform="translate(386.00,523.90)" font-size="11" text-anchor="start" fill="#000" font-weight="bold" stroke="#000" stroke-width="0.2" >L</text>
<text transform="translate(394.20,601.40) rotate(-90)" font-size="8.3" textLength="64" lengthAdjust="spacingAndGlyphs" fill="#1a1a1a" stroke="#1a1a1a" stroke-width="0.3">Relative CD14 migration</text>
<line x1="413.30" y1="532.00" x2="413.30" y2="607.40" stroke="#1a1a1a" stroke-width="1.2" stroke-linecap="butt"/>
<line x1="410.20" y1="606.80" x2="413.30" y2="606.80" stroke="#1a1a1a" stroke-width="1.0" stroke-linecap="butt"/>
<text transform="translate(407.00,609.00)" font-size="6.1" text-anchor="end" fill="#1a1a1a" font-weight="normal" stroke="#1a1a1a" stroke-width="0.12" >0</text>
<line x1="410.20" y1="583.00" x2="413.30" y2="583.00" stroke="#1a1a1a" stroke-width="1.0" stroke-linecap="butt"/>
<text transform="translate(407.00,585.20)" font-size="6.1" text-anchor="end" fill="#1a1a1a" font-weight="normal" stroke="#1a1a1a" stroke-width="0.12" >0.5</text>
<line x1="410.20" y1="559.20" x2="413.30" y2="559.20" stroke="#1a1a1a" stroke-width="1.0" stroke-linecap="butt"/>
<text transform="translate(407.00,561.40)" font-size="6.1" text-anchor="end" fill="#1a1a1a" font-weight="normal" stroke="#1a1a1a" stroke-width="0.12" >1</text>
<line x1="410.20" y1="535.40" x2="413.30" y2="535.40" stroke="#1a1a1a" stroke-width="1.0" stroke-linecap="butt"/>
<text transform="translate(407.00,537.60)" font-size="6.1" text-anchor="end" fill="#1a1a1a" font-weight="normal" stroke="#1a1a1a" stroke-width="0.12" >1.5</text>
<line x1="410.20" y1="606.80" x2="520.00" y2="606.80" stroke="#1a1a1a" stroke-width="1.2" stroke-linecap="butt"/>
<rect x="417.20" y="559.70" width="6.70" height="47.10" fill="#c4122f"/>
<line x1="420.55" y1="559.70" x2="420.55" y2="555.60" stroke="#333" stroke-width="0.9" stroke-linecap="butt"/>
<line x1="419.05" y1="555.60" x2="422.05" y2="555.60" stroke="#333" stroke-width="0.9" stroke-linecap="butt"/>
<rect x="427.10" y="559.70" width="6.75" height="47.10" fill="#b5c98e"/>
<line x1="430.48" y1="559.70" x2="430.48" y2="556.70" stroke="#333" stroke-width="0.9" stroke-linecap="butt"/>
<line x1="428.98" y1="556.70" x2="431.98" y2="556.70" stroke="#333" stroke-width="0.9" stroke-linecap="butt"/>
<rect x="437.10" y="559.70" width="6.70" height="47.10" fill="#5c2d82"/>
<line x1="440.45" y1="559.70" x2="440.45" y2="557.50" stroke="#333" stroke-width="0.9" stroke-linecap="butt"/>
<line x1="438.95" y1="557.50" x2="441.95" y2="557.50" stroke="#333" stroke-width="0.9" stroke-linecap="butt"/>
<rect x="454.00" y="589.30" width="6.40" height="17.50" fill="#c4122f"/>
<line x1="457.20" y1="589.30" x2="457.20" y2="587.10" stroke="#333" stroke-width="0.9" stroke-linecap="butt"/>
<line x1="455.70" y1="587.10" x2="458.70" y2="587.10" stroke="#333" stroke-width="0.9" stroke-linecap="butt"/>
<text transform="translate(457.20,586.90)" font-size="5.3" text-anchor="middle" fill="#1a1a1a" font-weight="normal" stroke="#1a1a1a" stroke-width="0.12" >***</text>
<rect x="464.00" y="582.50" width="6.70" height="24.30" fill="#b5c98e"/>
<line x1="467.35" y1="582.50" x2="467.35" y2="579.60" stroke="#333" stroke-width="0.9" stroke-linecap="butt"/>
<line x1="465.85" y1="579.60" x2="468.85" y2="579.60" stroke="#333" stroke-width="0.9" stroke-linecap="butt"/>
<text transform="translate(467.35,579.40)" font-size="5.3" text-anchor="middle" fill="#1a1a1a" font-weight="normal" stroke="#1a1a1a" stroke-width="0.12" >**</text>
<rect x="474.20" y="590.40" width="6.40" height="16.40" fill="#5c2d82"/>
<line x1="477.40" y1="590.40" x2="477.40" y2="587.70" stroke="#333" stroke-width="0.9" stroke-linecap="butt"/>
<line x1="475.90" y1="587.70" x2="478.90" y2="587.70" stroke="#333" stroke-width="0.9" stroke-linecap="butt"/>
<text transform="translate(477.40,587.50)" font-size="5.3" text-anchor="middle" fill="#1a1a1a" font-weight="normal" stroke="#1a1a1a" stroke-width="0.12" >**</text>
<rect x="490.40" y="589.30" width="6.70" height="17.50" fill="#c4122f"/>
<line x1="493.75" y1="589.30" x2="493.75" y2="587.00" stroke="#333" stroke-width="0.9" stroke-linecap="butt"/>
<line x1="492.25" y1="587.00" x2="495.25" y2="587.00" stroke="#333" stroke-width="0.9" stroke-linecap="butt"/>
<text transform="translate(493.75,586.80)" font-size="5.3" text-anchor="middle" fill="#1a1a1a" font-weight="normal" stroke="#1a1a1a" stroke-width="0.12" >***</text>
<rect x="500.40" y="580.90" width="6.30" height="25.90" fill="#b5c98e"/>
<line x1="503.55" y1="580.90" x2="503.55" y2="577.70" stroke="#333" stroke-width="0.9" stroke-linecap="butt"/>
<line x1="502.05" y1="577.70" x2="505.05" y2="577.70" stroke="#333" stroke-width="0.9" stroke-linecap="butt"/>
<text transform="translate(503.55,577.50)" font-size="5.3" text-anchor="middle" fill="#1a1a1a" font-weight="normal" stroke="#1a1a1a" stroke-width="0.12" >**</text>
<rect x="510.60" y="591.20" width="6.40" height="15.60" fill="#5c2d82"/>
<line x1="513.80" y1="591.20" x2="513.80" y2="588.50" stroke="#333" stroke-width="0.9" stroke-linecap="butt"/>
<line x1="512.30" y1="588.50" x2="515.30" y2="588.50" stroke="#333" stroke-width="0.9" stroke-linecap="butt"/>
<text transform="translate(513.80,588.30)" font-size="5.3" text-anchor="middle" fill="#1a1a1a" font-weight="normal" stroke="#1a1a1a" stroke-width="0.12" >**</text>
<line x1="430.50" y1="606.80" x2="430.50" y2="609.50" stroke="#1a1a1a" stroke-width="0.8" stroke-linecap="butt"/>
<line x1="467.40" y1="606.80" x2="467.40" y2="609.50" stroke="#1a1a1a" stroke-width="0.8" stroke-linecap="butt"/>
<line x1="503.60" y1="606.80" x2="503.60" y2="609.50" stroke="#1a1a1a" stroke-width="0.8" stroke-linecap="butt"/>
<text transform="translate(430.30,619.00)" font-size="6.4" text-anchor="middle" fill="#1a1a1a" font-weight="normal" stroke="#1a1a1a" stroke-width="0.12" >NT</text>
<text transform="translate(466.80,619.00)" font-size="6.45" text-anchor="middle" fill="#1a1a1a" font-weight="normal" stroke="#1a1a1a" stroke-width="0.12" >siCCR1 #1</text>
<text transform="translate(487.40,619.00)" font-size="6.45" text-anchor="start" fill="#1a1a1a" font-weight="normal" stroke="#1a1a1a" stroke-width="0.12" >siCCR1 #2</text>
<rect x="481.00" y="537.30" width="5.90" height="5.90" fill="#c4122f"/>
<text transform="translate(489.90,542.20)" font-size="5.6" text-anchor="start" fill="#1a1a1a" font-weight="normal" stroke="#1a1a1a" stroke-width="0.12" >Mino CM</text>
<rect x="481.00" y="546.80" width="5.90" height="5.90" fill="#b5c98e"/>
<text transform="translate(489.90,551.70)" font-size="5.6" text-anchor="start" fill="#1a1a1a" font-weight="normal" stroke="#1a1a1a" stroke-width="0.12" >Granta CM</text>
<rect x="481.00" y="556.30" width="5.90" height="5.90" fill="#5c2d82"/>
<text transform="translate(489.90,561.20)" font-size="5.6" text-anchor="start" fill="#1a1a1a" font-weight="normal" stroke="#1a1a1a" stroke-width="0.12" >JVM2 CM</text>
</svg>
</body></html>
